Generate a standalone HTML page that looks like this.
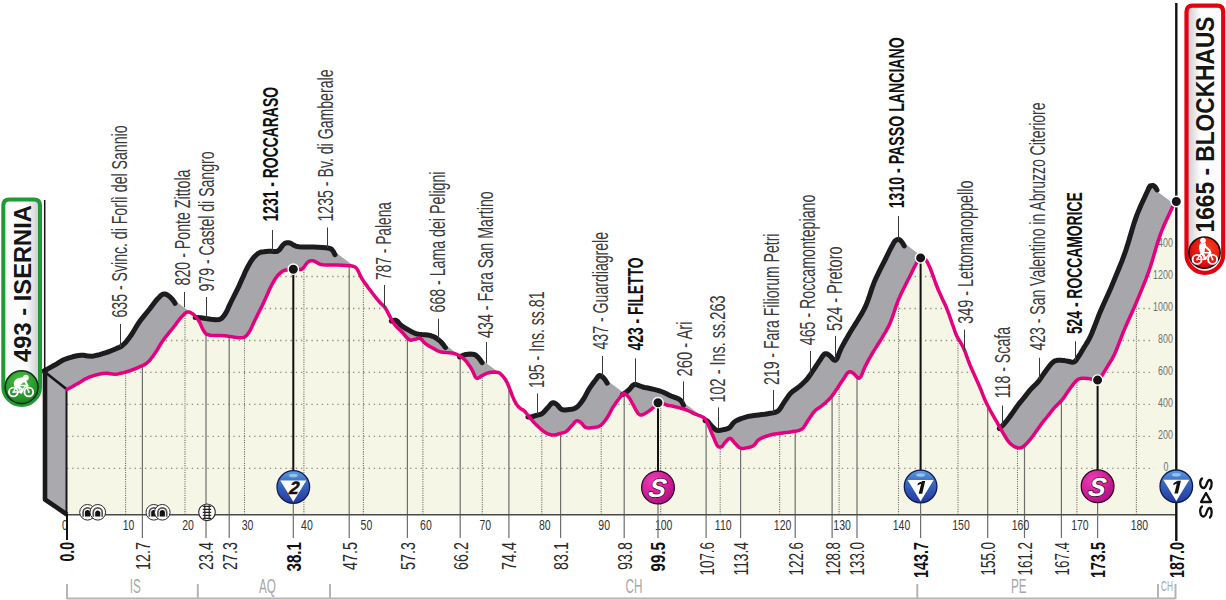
<!DOCTYPE html>
<html><head><meta charset="utf-8"><style>
html,body{margin:0;padding:0;background:#fff;}
svg{display:block;font-family:"Liberation Sans", sans-serif;}
</style></head><body>
<svg width="1226" height="600" viewBox="0 0 1226 600">
<rect width="1226" height="600" fill="#fff"/>
<defs>
<clipPath id="fc"><path d="M67,389.5 68.3,388.8 71.3,387.2 75,385.1 78.3,383.3 80.8,381.8 83.1,380.3 85.6,378.8 88.3,377.5 92.2,376.1 96.6,374.8 101,373.8 105,373.3 107.7,373.3 110.1,373.7 112.5,374.1 115,374.2 117.9,373.9 120.8,373.3 123.7,372.6 126.7,371.7 130.1,370.6 133.6,369.3 137,368 140,366.7 141.9,365.9 143.5,365.2 145.1,364.4 146.7,363.3 148.8,361.3 150.9,358.8 153,356.1 155,353.3 157.1,350.1 159.1,346.7 161.1,343.3 163.3,340 165.7,336.8 168.3,333.6 170.8,330.5 173.3,327.5 175.5,324.6 177.6,321.7 179.7,319 181.7,316.7 183.2,315.2 184.6,313.7 186,312.6 187.5,312 188.8,312 190,312.3 191.3,313 192.5,313.7 194,314.9 195.5,316.4 197,318.2 198.3,320 199.7,322.4 200.9,325.1 202.1,327.8 203.3,330 204,331.3 204.7,332.4 205.5,333.4 206.7,334.2 210.2,335.2 214.9,335.5 220.1,335.6 225,335.8 229.9,336.5 234.9,337.3 239.6,337.8 243.3,337.5 244.9,336.8 246.1,335.9 247.2,334.7 248.3,333.3 250,330.6 251.7,327.3 253.3,323.6 255,320 257,316 259.1,311.8 261.2,307.6 263.3,303.3 265.4,298.6 267.6,293.8 269.6,289.1 271.7,285 273.1,282.4 274.5,280 276,277.8 277.5,275.8 278.9,274.3 280.3,272.9 281.8,271.7 283.3,270.8 284.5,270.3 285.8,270 287,269.9 288.3,269.7 289.6,269.5 291,269.4 292.3,269.3 293.8,269.2 295.7,269.3 297.8,269.6 299.8,269.6 301.7,269.2 303.5,267.7 305.1,265.5 306.7,263.2 308.3,261.7 309.5,261.1 310.8,260.8 312,260.7 313.3,260.8 314.9,261.4 316.4,262.3 318.1,263.4 320,264.2 322.9,264.7 326.2,264.9 329.8,264.9 333.3,265 337.5,265.1 342.1,265.2 346.4,265.4 350,265.8 351.7,266 353.2,266.3 354.5,266.7 355.8,267.5 357.4,269.5 358.8,272.3 360.2,275.4 361.7,278.3 363.6,281.2 365.7,284.1 367.8,287.1 370,290 372.5,293.3 375.1,296.6 377.7,299.8 380,302.5 381.4,303.9 382.6,305 383.8,306.1 385,307.5 386.3,309.6 387.6,311.9 388.8,314.4 390,316.7 391.2,318.8 392.4,321 393.6,323 395,325 396.5,326.8 398.2,328.4 399.9,330 401.7,331.7 403.7,334 405.8,336.5 408,338.7 410,340 411.3,340.2 412.5,339.9 413.8,339.5 415,339.2 416.3,338.9 417.5,338.5 418.8,338.2 420,338.3 421.3,339.1 422.5,340.5 423.7,342 425,343.3 426.6,344.4 428.2,345.5 429.9,346.5 431.7,347.5 433.7,348.6 435.7,349.8 437.8,350.9 440,351.7 442.8,352.2 445.9,352.5 449,352.7 451.7,353 453.5,353.4 455.2,353.8 456.7,354.3 458.3,355 460,356 461.7,357.2 463.4,358.5 465,360 466.8,362 468.5,364.4 470.2,366.8 471.7,369.2 473,371.8 474.2,374.6 475.3,377 476.7,378.3 477.9,378.2 479.2,377.5 480.5,376.6 481.7,375.8 482.6,375.4 483.3,375 484.1,374.6 485,374.2 486.1,373.7 487.3,373.2 488.6,372.8 490,372.5 492,372.2 494.3,372.1 496.5,372.2 498.3,372.5 499.3,372.9 500.1,373.5 500.9,374.2 501.7,375 503,376.4 504.3,378 505.5,379.8 506.7,381.7 507.8,384 508.8,386.5 509.8,389.1 510.8,391.7 511.8,394.3 512.8,396.9 513.9,399.4 515,401.7 516,403.4 517,404.9 518,406.3 519.2,407.5 520.4,408.4 521.7,409.2 523,409.9 524.2,410.8 525.3,411.9 526.3,413.2 527.3,414.5 528.3,415.8 529.5,417.2 530.7,418.7 532,420.2 533.3,421.7 534.9,423.4 536.5,425.1 538.3,426.7 540,428.3 541.6,429.7 543.3,431.1 545,432.3 546.7,433.3 548.3,434 550,434.5 551.6,434.9 553.3,435 555,434.9 556.7,434.5 558.4,434 560,433.5 561.5,433.1 563,432.8 564.4,432.4 565.8,431.7 567.4,430.5 568.8,429 570.3,427.3 571.7,425.8 573,424.3 574.2,422.8 575.4,421.5 576.7,420.8 577.7,420.8 578.8,421.2 579.8,421.8 580.8,422.5 582,423.6 583.2,425.1 584.4,426.5 585.8,427.5 587.5,427.9 589.4,427.9 591.4,427.7 593.3,427.5 595,427.3 596.7,427 598.4,426.6 600,425.8 601.8,424.4 603.5,422.6 605.1,420.5 606.7,418.3 608.4,415.6 610,412.6 611.6,409.6 613.3,406.7 615,404.2 616.7,401.8 618.4,399.5 620,397.5 620.9,396.2 621.7,395 622.6,394 623.5,393.5 624.6,393.7 625.9,394.5 627.1,395.5 628.3,396.7 629.6,398.4 630.8,400.5 632,402.8 633.3,405 634.8,407.8 636.4,410.9 638.1,413.5 640,415 641.6,415 643.3,414.4 645,413.5 646.7,412.5 648.4,411.4 650.1,410.2 651.8,408.8 653.3,407.5 654.6,406.1 655.7,404.6 656.9,403.3 658.3,402.5 660.2,402.5 662.3,403.3 664.5,404.2 666.7,405 668.7,405.5 670.8,405.8 672.8,406.2 675,406.7 677.8,407.4 680.9,408.2 683.9,409 686.7,410 688.9,411 691,412 693,413.1 695,414 696.8,414.7 698.6,415.3 700.2,415.9 701.7,416.5 702.6,417 703.5,417.5 704.3,418.1 705,418.8 705.9,420 706.7,421.5 707.5,423.2 708.3,425 709.5,427.7 710.7,430.7 712,433.8 713.3,436.7 714.5,439.6 715.7,442.6 716.9,445.1 718.3,446.7 719.1,447 720,447.1 720.9,447 721.7,446.7 722.6,446 723.3,444.9 724.1,443.6 725,442.5 726.2,441.2 727.4,439.8 728.7,438.7 730,438.3 731.3,438.9 732.5,440.2 733.7,441.8 735,443.3 736.4,444.7 737.8,446.2 739.2,447.5 740.8,448.3 742.6,448.5 744.5,448.3 746.5,447.9 748.3,447.5 749.6,447.2 750.9,446.9 752.1,446.4 753.3,445.8 754.6,444.6 755.8,443 756.9,441.4 758.3,440 759.8,439 761.5,438.1 763.2,437.4 765,436.7 767,436 769.1,435.3 771.3,434.7 773.3,434.2 775,433.9 776.6,433.7 778.2,433.5 780,433.3 782.7,433 785.7,432.6 788.8,432.2 791.7,431.7 794.3,431.3 797,430.9 799.5,430.3 801.7,429.2 803.6,427.4 805.2,425 806.7,422.5 808.3,420 809.9,417.6 811.6,415.2 813.2,412.8 815,410.8 816.6,409.4 818.3,408.2 820,407.1 821.7,405.8 823.8,404.1 825.9,402.3 828,400.3 830,398.3 831.8,396.1 833.5,393.9 835.1,391.6 836.7,389.2 838.4,386.7 840,384.1 841.7,381.6 843.3,379.2 844.8,377 846.2,374.6 847.7,372.7 849.2,371.7 850.2,371.7 851.2,372 852.3,372.6 853.3,373.3 854.8,374.6 856.3,376.4 857.8,377.8 859.2,378.3 860.8,376.9 862.1,373.9 863.5,370.2 865,366.7 866.9,363.1 869,359.2 871.2,355.4 873.3,351.7 875.4,348.3 877.5,345 879.6,341.7 881.7,338.3 883.8,334.7 886,331.1 888,327.4 890,323.3 892.1,317.9 894.1,312 896.1,305.9 898.3,300 901.1,293.8 904.2,287.4 907.3,281.3 910,276 911.5,272.9 912.9,270 914.2,267.4 915.5,265 916.5,263.1 917.4,261.3 918.4,259.7 919.5,258.5 920.3,258 921.2,257.6 922.1,257.4 923,257.5 924.1,258.1 925.2,259.2 926.4,260.7 927.5,262.5 930.1,267.9 932.8,275.2 935.6,283 938.3,290 940.5,294.8 942.6,299.4 944.7,303.8 946.7,308.3 948.5,313 950.2,317.9 951.8,322.5 953.3,326.7 954.2,329.2 954.9,331.4 955.7,333.5 956.7,335.8 958.2,338.6 959.9,341.4 961.6,344.3 963.3,347.5 965,351.5 966.6,355.9 968.2,360.4 970,365 972.4,370.6 975.1,376.5 977.7,382.3 980,387.5 981.4,390.9 982.6,394.1 983.8,397.1 985,400 986.2,402.6 987.4,405 988.7,407.5 990,410 991.6,412.9 993.3,415.8 995,418.8 996.7,421.7 998.3,424.6 1000,427.6 1001.6,430.5 1003.3,433.3 1004.9,436 1006.5,438.7 1008.2,441.2 1010,443.3 1011.6,444.7 1013.3,445.9 1015,446.9 1016.7,447.5 1018,447.8 1019.2,447.9 1020.5,447.8 1021.7,447.5 1023.4,446.6 1025,445.1 1026.7,443.4 1028.3,441.7 1030,439.7 1031.7,437.5 1033.4,435.3 1035,433 1036.7,430.6 1038.4,428.2 1040.1,425.7 1041.7,423.5 1043,421.8 1044.3,420.2 1045.6,418.7 1047,417 1048.9,414.6 1050.9,412 1053,409.4 1055,407 1056.8,405.2 1058.5,403.5 1060.3,401.8 1062,400 1063.8,397.7 1065.5,395.1 1067.2,392.6 1069,390 1071.2,387 1073.5,383.9 1075.9,381.1 1078.3,379.2 1080,378.6 1081.6,378.3 1083.3,378.3 1085,378.3 1086.7,378.4 1088.4,378.6 1090,378.9 1091.7,379.2 1093.3,379.5 1095,380 1096.5,380.2 1098,380 1099.5,378.9 1100.8,377.2 1102.1,375.2 1103.3,373.3 1104.6,371.3 1105.8,369.2 1107.1,367.1 1108.3,365 1109.6,363 1110.8,361 1112.1,358.9 1113.3,356.7 1114.6,354 1115.9,351 1117.1,348 1118.3,345 1119.5,341.9 1120.7,338.8 1121.9,335.6 1123.3,332 1125.9,326 1128.9,319.3 1132.1,312.2 1135.3,304.9 1138.8,296.5 1142.4,287.8 1146,278.9 1149.3,269.9 1152.3,260.6 1155.1,251 1157.9,241.6 1161,232.6 1164.7,223.8 1169,214.5 1172.5,207 1174,204 L1174,514.5 L67,514.5 Z"/></clipPath>
<linearGradient id="boxg" x1="0" x2="1" y1="0" y2="0"><stop offset="0" stop-color="#fafafa"/><stop offset="0.6" stop-color="#ffffff"/><stop offset="1" stop-color="#c8c8cc"/></linearGradient>
<linearGradient id="boxr" x1="0" x2="1" y1="0" y2="0"><stop offset="0" stop-color="#c8c8cc"/><stop offset="0.4" stop-color="#ffffff"/><stop offset="1" stop-color="#fafafa"/></linearGradient>
<radialGradient id="gg" cx="0.45" cy="0.3" r="0.75"><stop offset="0" stop-color="#4cc142"/><stop offset="1" stop-color="#17801f"/></radialGradient>
<radialGradient id="rg" cx="0.62" cy="0.35" r="0.7"><stop offset="0" stop-color="#f5401e"/><stop offset="0.7" stop-color="#e01410"/><stop offset="1" stop-color="#c80a0a"/></radialGradient>
<linearGradient id="blg" x1="0" x2="0" y1="0" y2="1"><stop offset="0" stop-color="#5a9de0"/><stop offset="0.35" stop-color="#3a6cc8"/><stop offset="1" stop-color="#24399a"/></linearGradient>
<radialGradient id="mg" cx="0.35" cy="0.3" r="0.8"><stop offset="0" stop-color="#ea3cb4"/><stop offset="0.6" stop-color="#d01c98"/><stop offset="1" stop-color="#a40f78"/></radialGradient>
</defs>
<path d="M67,389.5 68.3,388.8 71.3,387.2 75,385.1 78.3,383.3 80.8,381.8 83.1,380.3 85.6,378.8 88.3,377.5 92.2,376.1 96.6,374.8 101,373.8 105,373.3 107.7,373.3 110.1,373.7 112.5,374.1 115,374.2 117.9,373.9 120.8,373.3 123.7,372.6 126.7,371.7 130.1,370.6 133.6,369.3 137,368 140,366.7 141.9,365.9 143.5,365.2 145.1,364.4 146.7,363.3 148.8,361.3 150.9,358.8 153,356.1 155,353.3 157.1,350.1 159.1,346.7 161.1,343.3 163.3,340 165.7,336.8 168.3,333.6 170.8,330.5 173.3,327.5 175.5,324.6 177.6,321.7 179.7,319 181.7,316.7 183.2,315.2 184.6,313.7 186,312.6 187.5,312 188.8,312 190,312.3 191.3,313 192.5,313.7 194,314.9 195.5,316.4 197,318.2 198.3,320 199.7,322.4 200.9,325.1 202.1,327.8 203.3,330 204,331.3 204.7,332.4 205.5,333.4 206.7,334.2 210.2,335.2 214.9,335.5 220.1,335.6 225,335.8 229.9,336.5 234.9,337.3 239.6,337.8 243.3,337.5 244.9,336.8 246.1,335.9 247.2,334.7 248.3,333.3 250,330.6 251.7,327.3 253.3,323.6 255,320 257,316 259.1,311.8 261.2,307.6 263.3,303.3 265.4,298.6 267.6,293.8 269.6,289.1 271.7,285 273.1,282.4 274.5,280 276,277.8 277.5,275.8 278.9,274.3 280.3,272.9 281.8,271.7 283.3,270.8 284.5,270.3 285.8,270 287,269.9 288.3,269.7 289.6,269.5 291,269.4 292.3,269.3 293.8,269.2 295.7,269.3 297.8,269.6 299.8,269.6 301.7,269.2 303.5,267.7 305.1,265.5 306.7,263.2 308.3,261.7 309.5,261.1 310.8,260.8 312,260.7 313.3,260.8 314.9,261.4 316.4,262.3 318.1,263.4 320,264.2 322.9,264.7 326.2,264.9 329.8,264.9 333.3,265 337.5,265.1 342.1,265.2 346.4,265.4 350,265.8 351.7,266 353.2,266.3 354.5,266.7 355.8,267.5 357.4,269.5 358.8,272.3 360.2,275.4 361.7,278.3 363.6,281.2 365.7,284.1 367.8,287.1 370,290 372.5,293.3 375.1,296.6 377.7,299.8 380,302.5 381.4,303.9 382.6,305 383.8,306.1 385,307.5 386.3,309.6 387.6,311.9 388.8,314.4 390,316.7 391.2,318.8 392.4,321 393.6,323 395,325 396.5,326.8 398.2,328.4 399.9,330 401.7,331.7 403.7,334 405.8,336.5 408,338.7 410,340 411.3,340.2 412.5,339.9 413.8,339.5 415,339.2 416.3,338.9 417.5,338.5 418.8,338.2 420,338.3 421.3,339.1 422.5,340.5 423.7,342 425,343.3 426.6,344.4 428.2,345.5 429.9,346.5 431.7,347.5 433.7,348.6 435.7,349.8 437.8,350.9 440,351.7 442.8,352.2 445.9,352.5 449,352.7 451.7,353 453.5,353.4 455.2,353.8 456.7,354.3 458.3,355 460,356 461.7,357.2 463.4,358.5 465,360 466.8,362 468.5,364.4 470.2,366.8 471.7,369.2 473,371.8 474.2,374.6 475.3,377 476.7,378.3 477.9,378.2 479.2,377.5 480.5,376.6 481.7,375.8 482.6,375.4 483.3,375 484.1,374.6 485,374.2 486.1,373.7 487.3,373.2 488.6,372.8 490,372.5 492,372.2 494.3,372.1 496.5,372.2 498.3,372.5 499.3,372.9 500.1,373.5 500.9,374.2 501.7,375 503,376.4 504.3,378 505.5,379.8 506.7,381.7 507.8,384 508.8,386.5 509.8,389.1 510.8,391.7 511.8,394.3 512.8,396.9 513.9,399.4 515,401.7 516,403.4 517,404.9 518,406.3 519.2,407.5 520.4,408.4 521.7,409.2 523,409.9 524.2,410.8 525.3,411.9 526.3,413.2 527.3,414.5 528.3,415.8 529.5,417.2 530.7,418.7 532,420.2 533.3,421.7 534.9,423.4 536.5,425.1 538.3,426.7 540,428.3 541.6,429.7 543.3,431.1 545,432.3 546.7,433.3 548.3,434 550,434.5 551.6,434.9 553.3,435 555,434.9 556.7,434.5 558.4,434 560,433.5 561.5,433.1 563,432.8 564.4,432.4 565.8,431.7 567.4,430.5 568.8,429 570.3,427.3 571.7,425.8 573,424.3 574.2,422.8 575.4,421.5 576.7,420.8 577.7,420.8 578.8,421.2 579.8,421.8 580.8,422.5 582,423.6 583.2,425.1 584.4,426.5 585.8,427.5 587.5,427.9 589.4,427.9 591.4,427.7 593.3,427.5 595,427.3 596.7,427 598.4,426.6 600,425.8 601.8,424.4 603.5,422.6 605.1,420.5 606.7,418.3 608.4,415.6 610,412.6 611.6,409.6 613.3,406.7 615,404.2 616.7,401.8 618.4,399.5 620,397.5 620.9,396.2 621.7,395 622.6,394 623.5,393.5 624.6,393.7 625.9,394.5 627.1,395.5 628.3,396.7 629.6,398.4 630.8,400.5 632,402.8 633.3,405 634.8,407.8 636.4,410.9 638.1,413.5 640,415 641.6,415 643.3,414.4 645,413.5 646.7,412.5 648.4,411.4 650.1,410.2 651.8,408.8 653.3,407.5 654.6,406.1 655.7,404.6 656.9,403.3 658.3,402.5 660.2,402.5 662.3,403.3 664.5,404.2 666.7,405 668.7,405.5 670.8,405.8 672.8,406.2 675,406.7 677.8,407.4 680.9,408.2 683.9,409 686.7,410 688.9,411 691,412 693,413.1 695,414 696.8,414.7 698.6,415.3 700.2,415.9 701.7,416.5 702.6,417 703.5,417.5 704.3,418.1 705,418.8 705.9,420 706.7,421.5 707.5,423.2 708.3,425 709.5,427.7 710.7,430.7 712,433.8 713.3,436.7 714.5,439.6 715.7,442.6 716.9,445.1 718.3,446.7 719.1,447 720,447.1 720.9,447 721.7,446.7 722.6,446 723.3,444.9 724.1,443.6 725,442.5 726.2,441.2 727.4,439.8 728.7,438.7 730,438.3 731.3,438.9 732.5,440.2 733.7,441.8 735,443.3 736.4,444.7 737.8,446.2 739.2,447.5 740.8,448.3 742.6,448.5 744.5,448.3 746.5,447.9 748.3,447.5 749.6,447.2 750.9,446.9 752.1,446.4 753.3,445.8 754.6,444.6 755.8,443 756.9,441.4 758.3,440 759.8,439 761.5,438.1 763.2,437.4 765,436.7 767,436 769.1,435.3 771.3,434.7 773.3,434.2 775,433.9 776.6,433.7 778.2,433.5 780,433.3 782.7,433 785.7,432.6 788.8,432.2 791.7,431.7 794.3,431.3 797,430.9 799.5,430.3 801.7,429.2 803.6,427.4 805.2,425 806.7,422.5 808.3,420 809.9,417.6 811.6,415.2 813.2,412.8 815,410.8 816.6,409.4 818.3,408.2 820,407.1 821.7,405.8 823.8,404.1 825.9,402.3 828,400.3 830,398.3 831.8,396.1 833.5,393.9 835.1,391.6 836.7,389.2 838.4,386.7 840,384.1 841.7,381.6 843.3,379.2 844.8,377 846.2,374.6 847.7,372.7 849.2,371.7 850.2,371.7 851.2,372 852.3,372.6 853.3,373.3 854.8,374.6 856.3,376.4 857.8,377.8 859.2,378.3 860.8,376.9 862.1,373.9 863.5,370.2 865,366.7 866.9,363.1 869,359.2 871.2,355.4 873.3,351.7 875.4,348.3 877.5,345 879.6,341.7 881.7,338.3 883.8,334.7 886,331.1 888,327.4 890,323.3 892.1,317.9 894.1,312 896.1,305.9 898.3,300 901.1,293.8 904.2,287.4 907.3,281.3 910,276 911.5,272.9 912.9,270 914.2,267.4 915.5,265 916.5,263.1 917.4,261.3 918.4,259.7 919.5,258.5 920.3,258 921.2,257.6 922.1,257.4 923,257.5 924.1,258.1 925.2,259.2 926.4,260.7 927.5,262.5 930.1,267.9 932.8,275.2 935.6,283 938.3,290 940.5,294.8 942.6,299.4 944.7,303.8 946.7,308.3 948.5,313 950.2,317.9 951.8,322.5 953.3,326.7 954.2,329.2 954.9,331.4 955.7,333.5 956.7,335.8 958.2,338.6 959.9,341.4 961.6,344.3 963.3,347.5 965,351.5 966.6,355.9 968.2,360.4 970,365 972.4,370.6 975.1,376.5 977.7,382.3 980,387.5 981.4,390.9 982.6,394.1 983.8,397.1 985,400 986.2,402.6 987.4,405 988.7,407.5 990,410 991.6,412.9 993.3,415.8 995,418.8 996.7,421.7 998.3,424.6 1000,427.6 1001.6,430.5 1003.3,433.3 1004.9,436 1006.5,438.7 1008.2,441.2 1010,443.3 1011.6,444.7 1013.3,445.9 1015,446.9 1016.7,447.5 1018,447.8 1019.2,447.9 1020.5,447.8 1021.7,447.5 1023.4,446.6 1025,445.1 1026.7,443.4 1028.3,441.7 1030,439.7 1031.7,437.5 1033.4,435.3 1035,433 1036.7,430.6 1038.4,428.2 1040.1,425.7 1041.7,423.5 1043,421.8 1044.3,420.2 1045.6,418.7 1047,417 1048.9,414.6 1050.9,412 1053,409.4 1055,407 1056.8,405.2 1058.5,403.5 1060.3,401.8 1062,400 1063.8,397.7 1065.5,395.1 1067.2,392.6 1069,390 1071.2,387 1073.5,383.9 1075.9,381.1 1078.3,379.2 1080,378.6 1081.6,378.3 1083.3,378.3 1085,378.3 1086.7,378.4 1088.4,378.6 1090,378.9 1091.7,379.2 1093.3,379.5 1095,380 1096.5,380.2 1098,380 1099.5,378.9 1100.8,377.2 1102.1,375.2 1103.3,373.3 1104.6,371.3 1105.8,369.2 1107.1,367.1 1108.3,365 1109.6,363 1110.8,361 1112.1,358.9 1113.3,356.7 1114.6,354 1115.9,351 1117.1,348 1118.3,345 1119.5,341.9 1120.7,338.8 1121.9,335.6 1123.3,332 1125.9,326 1128.9,319.3 1132.1,312.2 1135.3,304.9 1138.8,296.5 1142.4,287.8 1146,278.9 1149.3,269.9 1152.3,260.6 1155.1,251 1157.9,241.6 1161,232.6 1164.7,223.8 1169,214.5 1172.5,207 1174,204 L1174,514.5 L67,514.5 Z" fill="#f6f6e6"/>
<g clip-path="url(#fc)">
<path d="M67,468.3 H1154M67,436.3 H1154M67,404.4 H1154M67,372.4 H1154M67,340.5 H1154M67,308.5 H1154M67,276.5 H1154M67,244.6 H1154" stroke="#8a8a80" stroke-width="1.3" stroke-dasharray="1.3 3.9" fill="none"/>
<path d="M125.6,514.5 V200M185,514.5 V200M244.5,514.5 V200M303.9,514.5 V200M363.4,514.5 V200M422.9,514.5 V200M482.3,514.5 V200M541.8,514.5 V200M601.2,514.5 V200M660.7,514.5 V200M720.2,514.5 V200M779.6,514.5 V200M839.1,514.5 V200M898.5,514.5 V200M958,514.5 V200M1017.5,514.5 V200M1076.9,514.5 V200M1136.4,514.5 V200" stroke="#707068" stroke-width="1.1" stroke-dasharray="1.1 1.2" fill="none"/>
</g>
<text x="0" y="0" font-size="12.3" fill="#707070" text-anchor="end" transform="translate(1168.5 471.1) scale(0.72 1)">0</text>
<text x="0" y="0" font-size="12.3" fill="#707070" text-anchor="end" transform="translate(1172.8 439.1) scale(0.72 1)">200</text>
<text x="0" y="0" font-size="12.3" fill="#707070" text-anchor="end" transform="translate(1172.8 407.2) scale(0.72 1)">400</text>
<text x="0" y="0" font-size="12.3" fill="#707070" text-anchor="end" transform="translate(1172.8 375.2) scale(0.72 1)">600</text>
<text x="0" y="0" font-size="12.3" fill="#707070" text-anchor="end" transform="translate(1172.8 343.3) scale(0.72 1)">800</text>
<text x="0" y="0" font-size="12.3" fill="#707070" text-anchor="end" transform="translate(1172.8 311.3) scale(0.72 1)">1000</text>
<text x="0" y="0" font-size="12.3" fill="#707070" text-anchor="end" transform="translate(1172.8 279.3) scale(0.72 1)">1200</text>
<text x="0" y="0" font-size="12.3" fill="#707070" text-anchor="end" transform="translate(1172.8 247.4) scale(0.72 1)">1400</text>
<path d="M142.4,365.7 V538M206,333.7 V538M229.2,336.4 V538M349.2,265.7 V538M407.4,338.1 V538M460.2,356.1 V538M508.9,386.8 V538M560.6,433.4 V538M624.2,393.6 V538M706.1,420.5 V538M740.6,448.2 V538M795.2,431.2 V538M832.1,395.8 V538M857,377.1 V538M987.7,405.6 V538M1024.5,445.6 V538M1061.4,400.7 V538" stroke="#6e6e6e" stroke-width="1.2" fill="none"/>
<path d="M194,314.9 194,314.9 192.5,313.7 192.5,313.7 168.5,295.7 168.5,295.7 167.3,294.9 167.3,294.9 167.3,294.9 167.3,294.9 167.3,294.9 167.3,294.9 167.3,294.9 166,294.3 166,294.3 166,294.3 166,294.3 166,294.3 166,294.3 166,294.3 166,294.3 166,294.3 164.8,294 164.8,294 164.8,294 164.8,294 164.8,294 164.8,294 164.8,294 164.8,294 164.8,294 164.8,294 164.8,294 164.8,294 164.8,294 164.8,294 164.8,294 164.8,294 163.5,294 163.5,294 163.5,294 163.5,294 163.5,294 163.5,294 163.5,294 163.5,294 163.5,294 163.5,294 163.5,294 163.5,294 163.5,294 163.5,294 163.5,294 163.5,294 163.5,294 163.5,294 163.5,294 163.5,294 163.5,294 163.5,294 163.5,294 163.5,294 162,294.6 162,294.6 162,294.6 162,294.6 162,294.6 162,294.6 162,294.6 162,294.6 162,294.6 162,294.6 162,294.6 162,294.6 162,294.6 162,294.6 162,294.6 162,294.6 160.6,295.7 160.6,295.7 160.6,295.7 160.6,295.7 160.6,295.7 160.6,295.7 160.6,295.7 159.2,297.2 159.2,297.2 157.7,298.7 157.7,298.7 155.7,301 155.7,301 153.6,303.7 153.6,303.7 151.5,306.6 149.3,309.5 146.8,312.5 144.3,315.6 144.3,315.6 141.7,318.8 141.7,318.8 139.3,322 139.3,322 137.1,325.3 137.1,325.3 135.1,328.7 133.1,332.1 131,335.3 129,338.1 126.9,340.8 124.8,343.3 122.7,345.3 121.1,346.4 119.5,347.2 117.9,347.9 116,348.7 116,348.7 113,350 109.6,351.3 106.1,352.6 102.7,353.7 99.7,354.5 96.8,355.3 93.9,355.9 91,356.2 88.5,356.1 86.1,355.7 86.1,355.7 83.7,355.3 83.7,355.3 83.7,355.3 83.7,355.3 83.7,355.3 83.7,355.3 83.7,355.3 81,355.3 81,355.3 81,355.3 81,355.3 81,355.3 81,355.3 81,355.3 81,355.3 81,355.3 77,355.8 77,355.8 72.6,356.8 72.6,356.8 68.2,358.1 68.2,358.1 64.3,359.5 64.3,359.5 64.3,359.5 64.3,359.5 64.3,359.5 64.3,359.5 64.3,359.5 61.6,360.8 61.6,360.8 59.1,362.3 59.1,362.3 56.8,363.8 54.3,365.3 51,367.1 47.3,369.2 44.3,370.8 44.3,370.8 44.3,370.8 44.3,370.8 44.3,370.8 44.3,370.8 44.3,370.8 44.3,370.8 44.3,370.8 44.3,370.8 44.3,370.8 44.3,370.8 44.3,370.8 44.3,370.8 44.3,370.8 44.3,370.8 44.3,370.8 44.3,370.8 44.3,370.8 44.3,370.8 44.3,370.8 44.3,370.8 44.3,370.8 44.3,370.8 44.3,370.8 44.3,370.8 44.3,370.8 44.3,370.8 44.3,370.8 44.3,370.8 44.3,370.8 44.3,370.8 44.3,370.8 44.3,370.8 44.3,370.8 44.3,370.8 44.3,370.8 44.3,370.8 44.3,370.8 44.3,370.8 44.3,370.8 44.3,370.8 44.3,370.8 44.3,370.8 44.3,370.8 44.3,370.8 44.3,370.8 44.3,370.8 44.3,370.8 44.3,370.8 44.3,370.8 44.3,370.8 44.3,370.8 44.3,370.8 44.3,370.8 44.3,370.8 44.3,370.8 44.3,370.8 44.3,370.8 44.3,370.8 44.3,370.8 44.3,370.8 44.3,370.8 44.3,370.8 44.3,370.8 44.3,370.8 44.3,370.8 44.3,370.8 44.3,370.8 44.3,370.8 44.3,370.8 44.3,370.8 44.3,370.8 44.3,370.8 44.3,370.8 44.3,370.8 44.3,370.8 44.3,370.8 44.3,370.8 44.3,370.8 44.3,370.8 44.3,370.8 44.3,370.8 44.3,370.8 44.3,370.8 44.3,370.8 44.3,370.8 44.3,370.8 44.3,370.8 44.3,370.8 44.3,370.8 44.3,370.8 44.3,370.8 44.3,370.8 45,372.5 45,499.5 45,499.5 45,499.5 45,499.5 45,499.5 45,499.5 45,499.5 45,499.5 45,499.5 45,499.5 45,499.5 45,499.5 45,499.5 45,499.5 45,499.5 45,499.5 45,499.5 67,499.5 67,514.5 67,514.5 67,514.5 67,514.5 67,514.5 67,514.5 67,514.5 67,514.5 67,514.5 67,514.5 67,514.5 67,514.5 67,514.5 67,514.5 67,514.5 67,514.5 67,514.5 1174,514.5 1174,514.5 1174,514.5 1174,514.5 1174,514.5 1174,514.5 1174,514.5 1174,514.5 1174,514.5 1174,514.5 1174,514.5 1174,514.5 1174,514.5 1174,514.5 1174,514.5 1174,514.5 1174,514.5 1174,204 1174,204 1174,204 1174,204 1174,204 1174,204 1174,204 1174,204 1174,204 1174,204 1174,204 1174,204 1174,204 1174,204 1174,204 1174,204 1174,204 1174,204 1174,204 1174,204 1174,204 1174,204 1174,204 1174,204 1174,204 1174,204 1174,204 1174,204 1174,204 1174,204 1174,204 1174,204 1174,204 1174,204 1174,204 1174,204 1174,204 1174,204 1174,204 1150,186 1150,186 1150,186 1150,186 1150,186 1150,186 1150,186 1150,186 1150,186 1150,186 1150,186 1150,186 1150,186 1150,186 1150,186 1150,186 1150,186 1150,186 1150,186 1150,186 1150,186 1150,186 1150,186 1150,186 1150,186 1150,186 1150,186 1150,186 1150,186 1150,186 1150,186 1150,186 1150,186 1150,186 1150,186 1150,186 1150,186 1150,186 1150,186 1150,186 1150,186 1150,186 1150,186 1150,186 1150,186 1150,186 1150,186 1150,186 1150,186 1150,186 1150,186 1150,186 1150,186 1150,186 1150,186 1150,186 1150,186 1150,186 1150,186 1150,186 1150,186 1150,186 1150,186 1150,186 1150,186 1150,186 1150,186 1150,186 1150,186 1150,186 1148.5,189 1148.5,189 1145,196.5 1145,196.5 1140.7,205.8 1140.7,205.8 1137,214.6 1137,214.6 1133.9,223.6 1133.9,223.6 1131.1,233 1131.1,233 1128.3,242.6 1125.3,251.9 1122,260.9 1118.4,269.8 1114.8,278.5 1111.3,286.9 1108.1,294.2 1104.9,301.3 1101.9,308 1101.9,308 1099.3,314 1099.3,314 1097.9,317.6 1097.9,317.6 1096.6,320.8 1096.6,320.8 1095.5,323.9 1094.3,327 1093.1,330 1091.9,333 1090.6,336 1089.3,338.7 1088.1,340.9 1086.8,343 1085.6,345 1085.6,345 1084.3,347 1084.3,347 1083.1,349.1 1083.1,349.1 1081.8,351.2 1080.6,353.3 1079.3,355.3 1079.3,355.3 1078.1,357.2 1078.1,357.2 1076.8,359.2 1075.5,360.9 1074,362 1072.5,362.2 1071,362 1069.3,361.5 1069.3,361.5 1067.7,361.2 1067.7,361.2 1066,360.9 1064.4,360.6 1064.4,360.6 1062.7,360.4 1062.7,360.4 1061,360.3 1061,360.3 1059.3,360.3 1059.3,360.3 1057.6,360.3 1057.6,360.3 1057.6,360.3 1057.6,360.3 1057.6,360.3 1057.6,360.3 1057.6,360.3 1056,360.5 1056,360.5 1056,360.5 1056,360.5 1056,360.5 1056,360.5 1056,360.5 1056,360.5 1056,360.5 1056,360.5 1056,360.5 1056,360.5 1056,360.5 1054.3,361.2 1054.3,361.2 1054.3,361.2 1054.3,361.2 1054.3,361.2 1054.3,361.2 1054.3,361.2 1054.3,361.2 1054.3,361.2 1054.3,361.2 1054.3,361.2 1054.3,361.2 1054.3,361.2 1054.3,361.2 1054.3,361.2 1054.3,361.2 1051.9,363.1 1051.9,363.1 1051.9,363.1 1051.9,363.1 1051.9,363.1 1051.9,363.1 1051.9,363.1 1051.9,363.1 1051.9,363.1 1049.5,365.9 1049.5,365.9 1047.2,369 1047.2,369 1047.2,369 1045,372 1045,372 1043.2,374.5 1043.2,374.5 1041.4,377.1 1039.8,379.7 1038,382 1036.3,383.8 1034.5,385.5 1032.8,387.2 1032.8,387.2 1031,389 1031,389 1029,391.4 1029,391.4 1026.9,394 1026.9,394 1024.9,396.6 1023,399 1021.6,400.7 1020.3,402.2 1020.3,402.2 1019,403.8 1019,403.8 1017.7,405.5 1017.7,405.5 1016.1,407.7 1016.1,407.7 1014.4,410.2 1014.4,410.2 1012.7,412.6 1011,415 1009.3,417.3 1007.7,419.5 1006,421.7 1004.3,423.7 1002.7,425.4 1001,427.1 1000.2,427.9 1000,427.6 998.4,424.6 998.4,424.6 996.7,421.7 996.7,421.7 995,418.8 995,418.8 993.3,415.8 991.6,412.9 990,410 988.7,407.5 987.4,405 986.2,402.6 985,400 983.8,397.1 982.6,394.1 981.4,390.9 981.4,390.9 980,387.5 980,387.5 977.7,382.3 977.7,382.3 975.1,376.5 972.4,370.6 970,365 968.2,360.4 966.6,355.9 966.6,355.9 965,351.5 965,351.5 963.3,347.5 963.3,347.5 961.7,344.3 961.7,344.3 959.9,341.4 959.9,341.4 958.2,338.6 956.7,335.8 955.7,333.5 954.9,331.4 954.2,329.2 954.2,329.2 953.3,326.7 951.8,322.5 950.2,317.9 950.2,317.9 948.5,313 948.5,313 946.7,308.3 946.7,308.3 944.7,303.8 944.7,303.8 942.6,299.4 942.6,299.4 940.5,294.8 938.3,290 935.6,283 932.8,275.2 932.8,275.2 930.1,267.9 930.1,267.9 927.5,262.5 927.5,262.5 927.5,262.5 927.5,262.5 927.5,262.5 927.5,262.5 927.5,262.5 926.4,260.7 926.4,260.7 925.3,259.2 925.3,259.2 925.2,259.2 925.2,259.2 925.2,259.2 925.2,259.2 925.2,259.2 925.2,259.2 925.2,259.2 924.1,258.1 924.1,258.1 924.1,258.1 924.1,258.1 924.1,258.1 924.1,258.1 924.1,258.1 900.1,240.1 900.1,240.1 900.1,240.1 900.1,240.1 900.1,240.1 900.1,240.1 900.1,240.1 900.1,240.1 900.1,240.1 899,239.5 899,239.5 899,239.5 899,239.5 899,239.5 899,239.5 899,239.5 899,239.5 899,239.5 899,239.5 899,239.5 899,239.5 899,239.5 899,239.5 899,239.5 899,239.5 899,239.5 899,239.5 899,239.5 899,239.5 899,239.5 899,239.5 899,239.5 898.1,239.4 898.1,239.4 898.1,239.4 898.1,239.4 898.1,239.4 898.1,239.4 898.1,239.4 898.1,239.4 898.1,239.4 898.1,239.4 898.1,239.4 898.1,239.4 898.1,239.4 898.1,239.4 898.1,239.4 898.1,239.4 898.1,239.4 898.1,239.4 897.2,239.6 897.2,239.6 897.2,239.6 897.2,239.6 897.2,239.6 897.2,239.6 897.2,239.6 897.2,239.6 897.2,239.6 897.2,239.6 897.2,239.6 897.2,239.6 897.2,239.6 896.3,239.9 896.3,239.9 896.3,239.9 896.3,239.9 896.3,239.9 896.3,239.9 896.3,239.9 896.3,239.9 896.3,239.9 895.5,240.5 895.5,240.5 895.5,240.5 895.5,240.5 895.5,240.5 895.5,240.5 895.5,240.5 895.5,240.5 895.5,240.5 895.5,240.5 895.5,240.5 895.5,240.5 895.5,240.5 894.4,241.7 894.4,241.7 894.4,241.7 894.4,241.7 894.4,241.7 894.4,241.7 894.4,241.7 894.4,241.7 894.4,241.7 894.4,241.7 894.4,241.7 894.4,241.7 894.4,241.7 893.4,243.3 893.4,243.3 892.5,245.1 891.5,247 890.2,249.4 890.2,249.4 888.9,252 888.9,252 887.5,254.9 886,258 883.3,263.3 880.2,269.4 880.2,269.4 877.1,275.8 877.1,275.8 874.3,282 874.3,282 872.1,287.9 872.1,287.9 870.1,294 868.1,299.9 866,305.3 864,309.4 861.9,313.1 859.8,316.7 857.7,320.3 855.6,323.7 853.5,327 851.4,330.3 851.4,330.3 849.3,333.7 849.3,333.7 847.1,337.4 847.1,337.4 845,341.2 845,341.2 842.9,345 842.9,345 841,348.7 841,348.7 839.5,352.2 839.5,352.2 838.1,355.9 836.8,358.9 835.5,360 829.3,355.3 829.3,355.3 828.3,354.6 828.3,354.6 827.2,354 827.2,354 827.2,354 827.2,354 827.2,354 827.2,354 827.2,354 827.2,354 827.2,354 826.2,353.7 826.2,353.7 826.2,353.7 826.2,353.7 826.2,353.7 826.2,353.7 826.2,353.7 826.2,353.7 826.2,353.7 826.2,353.7 826.2,353.7 826.2,353.7 826.2,353.7 826.2,353.7 826.2,353.7 826.2,353.7 826.2,353.7 826.2,353.7 826.2,353.7 826.2,353.7 826.2,353.7 826.2,353.7 826.2,353.7 825.2,353.7 825.2,353.7 825.2,353.7 825.2,353.7 825.2,353.7 825.2,353.7 825.2,353.7 825.2,353.7 825.2,353.7 825.2,353.7 825.2,353.7 825.2,353.7 825.2,353.7 825.2,353.7 825.2,353.7 825.2,353.7 825.2,353.7 825.2,353.7 825.2,353.7 825.2,353.7 825.2,353.7 825.2,353.7 825.2,353.7 825.2,353.7 825.2,353.7 825.2,353.7 825.2,353.7 825.2,353.7 825.2,353.7 825.2,353.7 825.2,353.7 825.2,353.7 825.2,353.7 825.2,353.7 825.2,353.7 825.2,353.7 825.2,353.7 825.2,353.7 825.2,353.7 823.7,354.7 823.7,354.7 823.7,354.7 823.7,354.7 823.7,354.7 823.7,354.7 823.7,354.7 823.7,354.7 823.7,354.7 823.7,354.7 823.7,354.7 823.7,354.7 823.7,354.7 823.7,354.7 823.7,354.7 823.7,354.7 823.7,354.7 823.7,354.7 823.7,354.7 822.2,356.6 822.2,356.6 820.8,358.9 819.3,361.2 817.6,363.6 817.6,363.6 816,366.1 816,366.1 814.4,368.7 812.7,371.2 811.1,373.5 809.5,375.9 807.8,378.1 806,380.3 804,382.3 801.9,384.3 799.8,386.1 797.7,387.8 796,389.1 794.3,390.2 794.3,390.2 792.6,391.4 792.6,391.4 792.6,391.4 792.6,391.4 792.6,391.4 792.6,391.4 792.6,391.4 791,392.8 791,392.8 791,392.8 791,392.8 791,392.8 791,392.8 791,392.8 789.2,394.8 789.2,394.8 787.6,397.2 787.6,397.2 785.9,399.6 784.3,402 784.3,402 782.7,404.5 782.7,404.5 781.2,407 779.6,409.4 777.7,411.2 775.5,412.3 773,412.9 770.3,413.3 770.3,413.3 767.7,413.7 767.7,413.7 764.8,414.2 761.7,414.6 758.7,414.9 758.7,414.9 756,415.3 754.2,415.5 752.6,415.7 752.6,415.7 751,415.9 751,415.9 749.3,416.2 749.3,416.2 747.2,416.7 747.2,416.7 745.1,417.3 745.1,417.3 743,418 743,418 741,418.7 741,418.7 739.2,419.4 739.2,419.4 737.5,420.1 737.5,420.1 735.8,421 735.8,421 735.8,421 735.8,421 735.8,421 735.8,421 735.8,421 734.3,422 734.3,422 734.3,422 734.3,422 734.3,422 734.3,422 734.3,422 734.3,422 734.3,422 734.3,422 734.3,422 734.3,422 734.3,422 732.9,423.4 732.9,423.4 732.9,423.4 732.9,423.4 732.9,423.4 732.9,423.4 732.9,423.4 731.7,425 730.6,426.6 729.3,427.8 728.1,428.4 726.9,428.9 725.6,429.2 724.3,429.5 724.3,429.5 722.5,429.9 720.5,430.3 719.9,430.4 707.3,420.9 707.3,420.9 707.3,420.9 707.3,420.9 707.3,420.9 707.3,420.9 707.3,420.9 707.3,420.9 707.3,420.9 707.3,420.9 707.3,420.9 707.3,420.9 707.3,420.9 706.1,420.3 705.9,420 705.9,420 705.9,420 705.9,420 705.9,420 705.9,420 705.9,420 705,418.8 705,418.8 705,418.8 705,418.8 705,418.8 705,418.8 705,418.8 705,418.8 705,418.8 704.3,418.1 704.3,418.1 704.3,418.1 704.3,418.1 680.3,400.1 680.3,400.1 679.5,399.5 679.5,399.5 679.5,399.5 679.5,399.5 678.7,399 678.6,399 677.7,398.5 677.7,398.5 676.2,397.8 676.2,397.8 674.6,397.3 674.6,397.3 672.8,396.7 671,396 669,395.1 667,394 667,394 664.9,392.9 664.9,392.9 662.7,392 662.7,392 659.9,391 659.9,391 656.9,390.2 656.9,390.2 653.8,389.4 653.8,389.4 651,388.7 651,388.7 648.8,388.2 648.8,388.2 646.8,387.8 644.7,387.4 642.7,387 640.5,386.2 638.3,385.3 638.3,385.3 636.2,384.5 636.2,384.5 636.2,384.5 636.2,384.5 636.2,384.5 636.2,384.5 636.2,384.5 636.2,384.5 636.2,384.5 636.2,384.5 636.2,384.5 636.2,384.5 636.2,384.5 636.2,384.5 636.2,384.5 636.2,384.5 636.2,384.5 634.3,384.5 634.3,384.5 634.3,384.5 634.3,384.5 634.3,384.5 634.3,384.5 634.3,384.5 634.3,384.5 634.3,384.5 634.3,384.5 634.3,384.5 634.3,384.5 634.3,384.5 634.3,384.5 634.3,384.5 634.3,384.5 634.3,384.5 634.3,384.5 634.3,384.5 634.3,384.5 634.3,384.5 634.3,384.5 634.3,384.5 634.3,384.5 634.3,384.5 634.3,384.5 634.3,384.5 634.3,384.5 634.3,384.5 634.3,384.5 634.3,384.5 632.9,385.3 632.9,385.3 632.9,385.3 632.9,385.3 632.9,385.3 632.9,385.3 632.9,385.3 632.9,385.3 632.9,385.3 632.9,385.3 632.9,385.3 632.9,385.3 632.9,385.3 632.9,385.3 632.9,385.3 632.9,385.3 632.9,385.3 632.9,385.3 632.9,385.3 631.7,386.6 631.7,386.6 630.6,388.1 629.3,389.5 627.7,390.8 626.1,392.2 624.5,393.4 601.9,376.4 601.9,376.4 601.9,376.4 601.9,376.4 601.9,376.4 601.9,376.4 601.9,376.4 600.6,375.7 600.6,375.7 600.6,375.7 600.6,375.7 600.6,375.7 600.6,375.7 600.6,375.7 600.6,375.7 600.6,375.7 600.6,375.7 600.6,375.7 600.6,375.7 600.6,375.7 600.6,375.7 600.6,375.7 600.6,375.7 600.6,375.7 600.6,375.7 600.6,375.7 600.6,375.7 600.6,375.7 600.6,375.7 600.6,375.7 599.5,375.5 599.5,375.5 599.5,375.5 599.5,375.5 599.5,375.5 599.5,375.5 599.5,375.5 599.5,375.5 599.5,375.5 599.5,375.5 599.5,375.5 599.5,375.5 599.5,375.5 599.5,375.5 599.5,375.5 599.5,375.5 599.5,375.5 599.5,375.5 599.5,375.5 599.5,375.5 599.5,375.5 599.5,375.5 599.5,375.5 599.5,375.5 599.5,375.5 599.5,375.5 599.5,375.5 599.5,375.5 599.5,375.5 599.5,375.5 599.5,375.5 599.5,375.5 599.5,375.5 599.5,375.5 599.5,375.5 599.5,375.5 599.5,375.5 599.5,375.5 599.5,375.5 598.6,376 598.6,376 598.6,376 598.6,376 598.6,376 598.6,376 598.6,376 598.6,376 598.6,376 598.6,376 598.6,376 598.6,376 598.6,376 598.6,376 598.6,376 598.6,376 598.6,376 598.6,376 598.6,376 598.6,376 598.6,376 598.6,376 597.7,376.9 597.7,376.9 597.7,376.9 597.7,376.9 597.7,376.9 597.7,376.9 597.7,376.9 596.9,378.2 596,379.5 594.4,381.5 594.4,381.5 592.7,383.8 592.7,383.8 591,386.2 591,386.2 589.3,388.7 589.3,388.7 587.6,391.5 587.6,391.5 586,394.6 584.4,397.6 582.7,400.3 581.1,402.5 579.5,404.6 577.8,406.4 576,407.8 574.4,408.5 572.7,409 571,409.3 569.3,409.5 569.3,409.5 567.4,409.7 565.4,409.9 564,409.9 556.8,404.5 556.8,404.5 555.8,403.8 555.8,403.8 554.8,403.2 554.8,403.2 554.8,403.2 554.8,403.2 554.8,403.2 554.8,403.2 554.8,403.2 554.8,403.2 554.8,403.2 553.7,402.8 553.7,402.8 553.7,402.8 553.7,402.8 553.7,402.8 553.7,402.8 553.7,402.8 553.7,402.8 553.7,402.8 553.7,402.8 553.7,402.8 553.7,402.8 553.7,402.8 553.7,402.8 553.7,402.8 553.7,402.8 553.7,402.8 553.7,402.8 553.7,402.8 552.7,402.8 552.7,402.8 552.7,402.8 552.7,402.8 552.7,402.8 552.7,402.8 552.7,402.8 552.7,402.8 552.7,402.8 552.7,402.8 552.7,402.8 552.7,402.8 552.7,402.8 552.7,402.8 552.7,402.8 552.7,402.8 552.7,402.8 552.7,402.8 552.7,402.8 552.7,402.8 552.7,402.8 552.7,402.8 552.7,402.8 552.7,402.8 552.7,402.8 552.7,402.8 552.7,402.8 552.7,402.8 552.7,402.8 552.7,402.8 552.7,402.8 551.4,403.5 551.4,403.5 551.4,403.5 551.4,403.5 551.4,403.5 551.4,403.5 551.4,403.5 551.4,403.5 551.4,403.5 551.4,403.5 551.4,403.5 551.4,403.5 551.4,403.5 551.4,403.5 551.4,403.5 551.4,403.5 551.4,403.5 551.4,403.5 551.4,403.5 550.2,404.8 550.2,404.8 549,406.3 547.7,407.8 546.3,409.3 546.3,409.3 544.8,411 543.3,412.5 541.8,413.7 540.4,414.4 539,414.8 537.5,415.1 537.5,415.1 536,415.5 536,415.5 534.4,416 534.4,416 532.7,416.5 531,416.9 529.3,417 529.3,417 528.3,415.8 527.3,414.5 526.3,413.2 526.3,413.2 525.3,411.9 525.3,411.9 525.3,411.9 525.3,411.9 524.2,410.8 524.2,410.8 524.2,410.8 524.2,410.8 524.2,410.8 524.2,410.8 524.2,410.8 524.2,410.8 524.2,410.8 517.9,406.1 517,404.9 516,403.3 515,401.7 513.9,399.4 512.8,396.9 511.8,394.3 511.8,394.3 510.8,391.7 509.8,389.1 508.9,386.5 508.9,386.5 507.9,384 507.9,384 506.7,381.7 506.7,381.7 505.5,379.8 505.5,379.8 504.3,378 504.3,378 503,376.4 503,376.4 501.7,375 501.7,375 500.9,374.2 500.9,374.2 500.1,373.5 500.1,373.5 476.1,355.5 476.1,355.5 475.3,354.9 475.3,354.9 475.3,354.9 475.3,354.9 475.3,354.9 475.3,354.9 475.3,354.9 475.3,354.9 475.3,354.9 474.3,354.5 474.3,354.5 474.3,354.5 474.3,354.5 474.3,354.5 474.3,354.5 474.3,354.5 474.3,354.5 474.3,354.5 474.3,354.5 474.3,354.5 474.3,354.5 474.3,354.5 472.5,354.1 472.5,354.1 472.5,354.1 472.5,354.1 472.5,354.1 472.5,354.1 472.5,354.1 472.5,354.1 472.5,354.1 470.3,354.1 470.3,354.1 468,354.2 468,354.2 466,354.5 466,354.5 464.6,354.8 464.6,354.8 464.6,354.8 464.6,354.8 463.3,355.2 463.3,355.2 462.1,355.7 462.1,355.7 461,356.2 461,356.2 460.7,356.3 437.7,339.1 437.7,339.1 436,338 436,338 434.3,337 434.3,337 434.3,337 434.3,337 432.7,336.3 432.7,336.3 432.7,336.3 432.7,336.3 431.2,335.8 431.2,335.8 429.5,335.4 429.5,335.4 427.7,335 427.7,335 425,334.6 425,334.6 421.9,334.5 418.8,334.2 416,333.7 413.8,332.9 411.7,331.8 411.2,331.5 397.3,321.1 397.3,321.1 396,320.3 396,320.3 396,320.3 396,320.3 396,320.3 396,320.3 396,320.3 396,320.3 396,320.3 396,320.3 396,320.3 396,320.3 396,320.3 396,320.3 396,320.3 396,320.3 396,320.3 396,320.3 396,320.3 396,320.3 396,320.3 396,320.3 396,320.3 396,320.3 396,320.3 396,320.3 396,320.3 396,320.3 396,320.3 396,320.3 396,320.3 394.8,320.2 394.8,320.2 394.8,320.2 394.8,320.2 394.8,320.2 394.8,320.2 394.8,320.2 394.8,320.2 394.8,320.2 394.8,320.2 394.8,320.2 394.8,320.2 394.8,320.2 394.8,320.2 394.8,320.2 394.8,320.2 393.5,320.5 393.5,320.5 393.5,320.5 393.5,320.5 393.5,320.5 393.5,320.5 393.5,320.5 392.3,320.8 391.2,318.8 391.2,318.8 390,316.7 388.8,314.4 387.6,311.9 387.6,311.9 386.3,309.6 386.3,309.6 385,307.5 385,307.5 385,307.5 385,307.5 385,307.5 385,307.5 385,307.5 383.8,306.1 383.8,306.1 383.8,306.1 383.8,306.1 382.6,305 382.6,305 381.4,303.9 380,302.5 377.7,299.8 375.1,296.6 372.5,293.2 370,290 367.8,287.1 365.7,284.1 363.6,281.2 361.7,278.3 360.2,275.4 358.8,272.3 358.8,272.3 357.4,269.5 357.4,269.5 357.4,269.5 357.4,269.5 357.4,269.5 357.4,269.5 357.4,269.5 357.4,269.5 357.4,269.5 357.4,269.5 357.4,269.5 357.4,269.5 357.4,269.5 355.8,267.5 355.8,267.5 355.8,267.5 355.8,267.5 355.8,267.5 355.8,267.5 355.8,267.5 355.8,267.5 355.8,267.5 355.8,267.5 355.8,267.5 355.8,267.5 355.8,267.5 331.8,249.5 331.8,249.5 330.5,248.7 330.5,248.7 330.5,248.7 330.5,248.7 330.5,248.7 330.5,248.7 330.5,248.7 330.5,248.7 330.5,248.7 330.5,248.7 330.5,248.7 330.5,248.7 330.5,248.7 329.2,248.3 329.2,248.3 329.2,248.3 329.2,248.3 329.2,248.3 329.2,248.3 329.2,248.3 327.7,248 327.7,248 326,247.8 326,247.8 322.4,247.4 322.4,247.4 318.1,247.2 318.1,247.2 313.5,247.1 309.3,247 309.3,247 305.8,246.9 305.8,246.9 302.2,246.9 298.9,246.7 296,246.2 294.1,245.4 292.4,244.3 292.4,244.3 290.9,243.4 290.9,243.4 290.9,243.4 290.9,243.4 290.9,243.4 290.9,243.4 290.9,243.4 290.9,243.4 290.9,243.4 290.9,243.4 290.9,243.4 290.9,243.4 290.9,243.4 289.3,242.8 289.3,242.8 289.3,242.8 289.3,242.8 289.3,242.8 289.3,242.8 289.3,242.8 289.3,242.8 289.3,242.8 289.3,242.8 289.3,242.8 289.3,242.8 289.3,242.8 289.3,242.8 289.3,242.8 289.3,242.8 288,242.7 288,242.7 288,242.7 288,242.7 288,242.7 288,242.7 288,242.7 288,242.7 288,242.7 286.8,242.8 286.8,242.8 286.8,242.8 286.8,242.8 286.8,242.8 286.8,242.8 286.8,242.8 286.8,242.8 286.8,242.8 285.5,243.1 285.5,243.1 285.5,243.1 285.5,243.1 285.5,243.1 285.5,243.1 285.5,243.1 285.5,243.1 285.5,243.1 284.3,243.7 284.3,243.7 284.3,243.7 284.3,243.7 284.3,243.7 284.3,243.7 284.3,243.7 284.3,243.7 284.3,243.7 284.3,243.7 284.3,243.7 284.3,243.7 284.3,243.7 284.3,243.7 284.3,243.7 284.3,243.7 284.3,243.7 284.3,243.7 284.3,243.7 282.7,245.2 282.7,245.2 282.7,245.2 282.7,245.2 282.7,245.2 282.7,245.2 282.7,245.2 282.7,245.2 282.7,245.2 282.7,245.2 282.7,245.2 282.7,245.2 282.7,245.2 281.1,247.5 279.5,249.7 277.7,251.2 275.8,251.6 273.8,251.5 271.7,251.3 271.7,251.3 269.8,251.2 269.8,251.2 269.8,251.2 269.8,251.2 269.8,251.2 269.8,251.2 269.8,251.2 268.3,251.3 268.3,251.3 267,251.4 267,251.4 265.6,251.5 265.6,251.5 264.3,251.7 263,251.9 263,251.9 261.8,252 261.8,252 260.5,252.3 260.5,252.3 260.5,252.3 260.5,252.3 260.5,252.3 260.5,252.3 260.5,252.3 260.5,252.3 260.5,252.3 259.3,252.8 259.3,252.8 259.3,252.8 259.3,252.8 259.3,252.8 259.3,252.8 259.3,252.8 259.3,252.8 259.3,252.8 257.8,253.7 257.8,253.7 257.8,253.7 257.8,253.7 257.8,253.7 257.8,253.7 257.8,253.7 256.3,254.9 256.3,254.9 254.9,256.3 254.9,256.3 253.5,257.8 253.5,257.8 252,259.8 252,259.8 250.5,261.9 250.5,261.9 249.1,264.4 249.1,264.4 247.7,267 247.7,267 245.6,271.1 245.6,271.1 243.5,275.8 243.5,275.8 241.4,280.6 239.3,285.3 237.2,289.6 235.1,293.8 233,298 233,298 233,298 231,302 231,302 229.3,305.6 229.3,305.6 227.7,309.3 226,312.6 224.3,315.3 223.2,316.7 222.1,317.9 220.9,318.8 219.3,319.5 215.6,319.8 210.9,319.3 205.9,318.5 205.9,318.5 201,317.8 201,317.8 196.5,317.6 195.5,316.4 195.5,316.4 194,314.9 194,314.9 194,314.9 194,314.9 194,314.9 194,314.9ZM68.3,388.8 71.3,387.2 75,385.1 78.3,383.3 80.8,381.8 83.1,380.3 85.6,378.8 88.3,377.5 92.2,376.1 96.6,374.8 101,373.8 105,373.3 107.7,373.3 110.1,373.7 112.5,374.1 115,374.2 117.9,373.9 120.8,373.3 123.7,372.6 126.7,371.7 130.1,370.6 133.6,369.3 137,368 140,366.7 141.9,365.9 143.5,365.2 145.1,364.4 146.7,363.3 148.8,361.3 150.9,358.8 153,356.1 155,353.3 157.1,350.1 159.1,346.7 161.1,343.3 163.3,340 165.7,336.8 168.3,333.6 170.8,330.5 173.3,327.5 175.5,324.6 177.6,321.7 179.7,319 181.7,316.7 183.2,315.2 184.6,313.7 186,312.6 187.5,312 188.8,312 190,312.3 191.3,313 192.5,313.7 194,314.9 195.5,316.4 197,318.2 198.3,320 199.7,322.4 200.9,325.1 202.1,327.8 203.3,330 204,331.3 204.7,332.4 205.5,333.4 206.7,334.2 210.2,335.2 214.9,335.5 220.1,335.6 225,335.8 229.9,336.5 234.9,337.3 239.6,337.8 243.3,337.5 244.9,336.8 246.1,335.9 247.2,334.7 248.3,333.3 250,330.6 251.7,327.3 253.3,323.6 255,320 257,316 259.1,311.8 261.2,307.6 263.3,303.3 265.4,298.6 267.6,293.8 269.6,289.1 271.7,285 273.1,282.4 274.5,280 276,277.8 277.5,275.8 278.9,274.3 280.3,272.9 281.8,271.7 283.3,270.8 284.5,270.3 285.8,270 287,269.9 288.3,269.7 289.6,269.5 291,269.4 292.3,269.3 293.8,269.2 295.7,269.3 297.8,269.6 299.8,269.6 301.7,269.2 303.5,267.7 305.1,265.5 306.7,263.2 308.3,261.7 309.5,261.1 310.8,260.8 312,260.7 313.3,260.8 314.9,261.4 316.4,262.3 318.1,263.4 320,264.2 322.9,264.7 326.2,264.9 329.8,264.9 333.3,265 337.5,265.1 342.1,265.2 346.4,265.4 350,265.8 351.7,266 353.2,266.3 354.5,266.7 355.8,267.5 357.4,269.5 358.8,272.3 360.2,275.4 361.7,278.3 363.6,281.2 365.7,284.1 367.8,287.1 370,290 372.5,293.3 375.1,296.6 377.7,299.8 380,302.5 381.4,303.9 382.6,305 383.8,306.1 385,307.5 386.3,309.6 387.6,311.9 388.8,314.4 390,316.7 391.2,318.8 392.4,321 393.6,323 395,325 396.5,326.8 398.2,328.4 399.9,330 401.7,331.7 403.7,334 405.8,336.5 408,338.7 410,340 411.3,340.2 412.5,339.9 413.8,339.5 415,339.2 416.3,338.9 417.5,338.5 418.8,338.2 420,338.3 421.3,339.1 422.5,340.5 423.7,342 425,343.3 426.6,344.4 428.2,345.5 429.9,346.5 431.7,347.5 433.7,348.6 435.7,349.8 437.8,350.9 440,351.7 442.8,352.2 445.9,352.5 449,352.7 451.7,353 453.5,353.4 455.2,353.8 456.7,354.3 458.3,355 460,356 461.7,357.2 463.4,358.5 465,360 466.8,362 468.5,364.4 470.2,366.8 471.7,369.2 473,371.8 474.2,374.6 475.3,377 476.7,378.3 477.9,378.2 479.2,377.5 480.5,376.6 481.7,375.8 482.6,375.4 483.3,375 484.1,374.6 485,374.2 486.1,373.7 487.3,373.2 488.6,372.8 490,372.5 492,372.2 494.3,372.1 496.5,372.2 498.3,372.5 499.3,372.9 500.1,373.5 500.9,374.2 501.7,375 503,376.4 504.3,378 505.5,379.8 506.7,381.7 507.8,384 508.8,386.5 509.8,389.1 510.8,391.7 511.8,394.3 512.8,396.9 513.9,399.4 515,401.7 516,403.4 517,404.9 518,406.3 519.2,407.5 520.4,408.4 521.7,409.2 523,409.9 524.2,410.8 525.3,411.9 526.3,413.2 527.3,414.5 528.3,415.8 529.5,417.2 530.7,418.7 532,420.2 533.3,421.7 534.9,423.4 536.5,425.1 538.3,426.7 540,428.3 541.6,429.7 543.3,431.1 545,432.3 546.7,433.3 548.3,434 550,434.5 551.6,434.9 553.3,435 555,434.9 556.7,434.5 558.4,434 560,433.5 561.5,433.1 563,432.8 564.4,432.4 565.8,431.7 567.4,430.5 568.8,429 570.3,427.3 571.7,425.8 573,424.3 574.2,422.8 575.4,421.5 576.7,420.8 577.7,420.8 578.8,421.2 579.8,421.8 580.8,422.5 582,423.6 583.2,425.1 584.4,426.5 585.8,427.5 587.5,427.9 589.4,427.9 591.4,427.7 593.3,427.5 595,427.3 596.7,427 598.4,426.6 600,425.8 601.8,424.4 603.5,422.6 605.1,420.5 606.7,418.3 608.4,415.6 610,412.6 611.6,409.6 613.3,406.7 615,404.2 616.7,401.8 618.4,399.5 620,397.5 620.9,396.2 621.7,395 622.6,394 623.5,393.5 624.6,393.7 625.9,394.5 627.1,395.5 628.3,396.7 629.6,398.4 630.8,400.5 632,402.8 633.3,405 634.8,407.8 636.4,410.9 638.1,413.5 640,415 641.6,415 643.3,414.4 645,413.5 646.7,412.5 648.4,411.4 650.1,410.2 651.8,408.8 653.3,407.5 654.6,406.1 655.7,404.6 656.9,403.3 658.3,402.5 660.2,402.5 662.3,403.3 664.5,404.2 666.7,405 668.7,405.5 670.8,405.8 672.8,406.2 675,406.7 677.8,407.4 680.9,408.2 683.9,409 686.7,410 688.9,411 691,412 693,413.1 695,414 696.8,414.7 698.6,415.3 700.2,415.9 701.7,416.5 702.6,417 703.5,417.5 704.3,418.1 705,418.8 705.9,420 706.7,421.5 707.5,423.2 708.3,425 709.5,427.7 710.7,430.7 712,433.8 713.3,436.7 714.5,439.6 715.7,442.6 716.9,445.1 718.3,446.7 719.1,447 720,447.1 720.9,447 721.7,446.7 722.6,446 723.3,444.9 724.1,443.6 725,442.5 726.2,441.2 727.4,439.8 728.7,438.7 730,438.3 731.3,438.9 732.5,440.2 733.7,441.8 735,443.3 736.4,444.7 737.8,446.2 739.2,447.5 740.8,448.3 742.6,448.5 744.5,448.3 746.5,447.9 748.3,447.5 749.6,447.2 750.9,446.9 752.1,446.4 753.3,445.8 754.6,444.6 755.8,443 756.9,441.4 758.3,440 759.8,439 761.5,438.1 763.2,437.4 765,436.7 767,436 769.1,435.3 771.3,434.7 773.3,434.2 775,433.9 776.6,433.7 778.2,433.5 780,433.3 782.7,433 785.7,432.6 788.8,432.2 791.7,431.7 794.3,431.3 797,430.9 799.5,430.3 801.7,429.2 803.6,427.4 805.2,425 806.7,422.5 808.3,420 809.9,417.6 811.6,415.2 813.2,412.8 815,410.8 816.6,409.4 818.3,408.2 820,407.1 821.7,405.8 823.8,404.1 825.9,402.3 828,400.3 830,398.3 831.8,396.1 833.5,393.9 835.1,391.6 836.7,389.2 838.4,386.7 840,384.1 841.7,381.6 843.3,379.2 844.8,377 846.2,374.6 847.7,372.7 849.2,371.7 850.2,371.7 851.2,372 852.3,372.6 853.3,373.3 854.8,374.6 856.3,376.4 857.8,377.8 859.2,378.3 860.8,376.9 862.1,373.9 863.5,370.2 865,366.7 866.9,363.1 869,359.2 871.2,355.4 873.3,351.7 875.4,348.3 877.5,345 879.6,341.7 881.7,338.3 883.8,334.7 886,331.1 888,327.4 890,323.3 892.1,317.9 894.1,312 896.1,305.9 898.3,300 901.1,293.8 904.2,287.4 907.3,281.3 910,276 911.5,272.9 912.9,270 914.2,267.4 915.5,265 916.5,263.1 917.4,261.3 918.4,259.7 919.5,258.5 920.3,258 921.2,257.6 922.1,257.4 923,257.5 924.1,258.1 925.2,259.2 926.4,260.7 927.5,262.5 930.1,267.9 932.8,275.2 935.6,283 938.3,290 940.5,294.8 942.6,299.4 944.7,303.8 946.7,308.3 948.5,313 950.2,317.9 951.8,322.5 953.3,326.7 954.2,329.2 954.9,331.4 955.7,333.5 956.7,335.8 958.2,338.6 959.9,341.4 961.6,344.3 963.3,347.5 965,351.5 966.6,355.9 968.2,360.4 970,365 972.4,370.6 975.1,376.5 977.7,382.3 980,387.5 981.4,390.9 982.6,394.1 983.8,397.1 985,400 986.2,402.6 987.4,405 988.7,407.5 990,410 991.6,412.9 993.3,415.8 995,418.8 996.7,421.7 998.3,424.6 1000,427.6 1001.6,430.5 1003.3,433.3 1004.9,436 1006.5,438.7 1008.2,441.2 1010,443.3 1011.6,444.7 1013.3,445.9 1015,446.9 1016.7,447.5 1018,447.8 1019.2,447.9 1020.5,447.8 1021.7,447.5 1023.4,446.6 1025,445.1 1026.7,443.4 1028.3,441.7 1030,439.7 1031.7,437.5 1033.4,435.3 1035,433 1036.7,430.6 1038.4,428.2 1040.1,425.7 1041.7,423.5 1043,421.8 1044.3,420.2 1045.6,418.7 1047,417 1048.9,414.6 1050.9,412 1053,409.4 1055,407 1056.8,405.2 1058.5,403.5 1060.3,401.8 1062,400 1063.8,397.7 1065.5,395.1 1067.2,392.6 1069,390 1071.2,387 1073.5,383.9 1075.9,381.1 1078.3,379.2 1080,378.6 1081.6,378.3 1083.3,378.3 1085,378.3 1086.7,378.4 1088.4,378.6 1090,378.9 1091.7,379.2 1093.3,379.5 1095,380 1096.5,380.2 1098,380 1099.5,378.9 1100.8,377.2 1102.1,375.2 1103.3,373.3 1104.6,371.3 1105.8,369.2 1107.1,367.1 1108.3,365 1109.6,363 1110.8,361 1112.1,358.9 1113.3,356.7 1114.6,354 1115.9,351 1117.1,348 1118.3,345 1119.5,341.9 1120.7,338.8 1121.9,335.6 1123.3,332 1125.9,326 1128.9,319.3 1132.1,312.2 1135.3,304.9 1138.8,296.5 1142.4,287.8 1146,278.9 1149.3,269.9 1152.3,260.6 1155.1,251 1157.9,241.6 1161,232.6 1164.7,223.8 1169,214.5 1172.5,207 1174,204 1174,514.5 67,514.5 67,389.5 68.3,388.8Z" fill="#a7a7ab" fill-rule="nonzero"/>
<path d="M45,372.5 L67,389.5 L67,514.5 L45,499.5 Z" fill="#aaaaae"/>
<path d="M45.5,372.5 L67,389.5" stroke="#151515" stroke-width="2.6"/>
<path d="M66.5,389.5 V514.5" stroke="#1a1a1a" stroke-width="2"/>
<path d="M45,372 V499.5 L67,514.5" stroke="#1a1a1a" stroke-width="4.6" fill="none" stroke-linejoin="round"/>
<path d="M45,372.5 44.3,370.8 47.3,369.2 51,367.1 54.3,365.3 56.8,363.8 59.1,362.3 61.6,360.8 64.3,359.5 68.2,358.1 72.6,356.8 77,355.8 81,355.3 83.7,355.3 86.1,355.7 88.5,356.1 91,356.2 93.9,355.9 96.8,355.3 99.7,354.6 102.7,353.7 106.1,352.6 109.6,351.3 113,350 116,348.7 117.9,347.9 119.5,347.2 121.1,346.4 122.7,345.3 124.8,343.3 126.9,340.8 129,338.1 131,335.3 133.1,332.1 135.1,328.7 137.1,325.3 139.3,322 141.7,318.8 144.3,315.6 146.8,312.5 149.3,309.5 151.5,306.6 153.6,303.7 155.7,301 157.7,298.7 159.2,297.2 160.6,295.7 162,294.6 163.5,294 164.8,294 166,294.3 167.3,295 168.5,295.7 170,296.9 171.5,298.4 173,300.2 174.3,302 175.1,303.4M195.2,317.6 196.1,317.6 201,317.8 205.9,318.5 210.9,319.3 215.6,319.8 219.3,319.5 220.9,318.8 222.1,317.9 223.2,316.7 224.3,315.3 226,312.6 227.7,309.3 229.3,305.6 231,302 233,298 235.1,293.8 237.2,289.6 239.3,285.3 241.4,280.6 243.6,275.8 245.6,271.1 247.7,267 249.1,264.4 250.5,262 252,259.8 253.5,257.8 254.9,256.3 256.3,254.9 257.8,253.7 259.3,252.8 260.5,252.3 261.8,252 263,251.9 264.3,251.7 265.6,251.5 267,251.4 268.3,251.3 269.8,251.2 271.7,251.3 273.8,251.6 275.8,251.6 277.7,251.2 279.5,249.7 281.1,247.5 282.7,245.2 284.3,243.7 285.5,243.1 286.8,242.8 288,242.7 289.3,242.8 290.9,243.4 292.4,244.3 294.1,245.4 296,246.2 298.9,246.7 302.2,246.9 305.8,246.9 309.3,247 313.5,247.1 318.1,247.2 322.4,247.4 326,247.8 327.7,248 329.2,248.3 330.5,248.7 331.8,249.5 333.4,251.5 334.8,254.3 335,254.6M391.3,321.1 392.3,320.9 393.5,320.5 394.8,320.2 396,320.3 397.3,321.1 398.5,322.5 399.7,324 401,325.3 402.6,326.4 404.2,327.5 405.9,328.5 407.7,329.5 409.7,330.6 411.7,331.8 413.8,332.9 416,333.7 418.8,334.2 421.9,334.5 425,334.7 427.7,335 429.5,335.4 431.2,335.8 432.7,336.3 434.3,337 436,338 437.7,339.2 439.4,340.5 441,342 442.8,344 444.5,346.4 445.4,347.6M459.6,356.9 460.1,356.6 461,356.2 462.1,355.7 463.3,355.2 464.6,354.8 466,354.5 468,354.2 470.3,354.1 472.5,354.2 474.3,354.5 475.3,354.9 476.1,355.5 476.9,356.2 477.7,357 479,358.4 480.3,360 481.5,361.8 482.1,362.7M527.9,416.9 529.3,417 531,416.9 532.7,416.5 534.4,416 536,415.5 537.5,415.1 539,414.8 540.4,414.4 541.8,413.7 543.4,412.5 544.8,411 546.3,409.3 547.7,407.8 549,406.3 550.2,404.8 551.4,403.5 552.7,402.8 553.7,402.8 554.8,403.2 555.8,403.8 556.8,404.5 558,405.6 559.2,407.1 560.4,408.5 561.8,409.5 563.5,409.9 565.4,409.9 567.4,409.7 569.3,409.5 571,409.3 572.7,409 574.4,408.6 576,407.8 577.8,406.4 579.5,404.6 581.1,402.5 582.7,400.3 584.4,397.6 586,394.6 587.6,391.6 589.3,388.7 591,386.2 592.7,383.8 594.4,381.5 596,379.5 596.9,378.2 597.7,377 598.6,376 599.5,375.5 600.6,375.7 601.9,376.5 603.1,377.5 604.3,378.7 605.6,380.4 606.8,382.5 607.2,383.2M622.5,394.6 622.7,394.5 624.4,393.4 626.1,392.2 627.8,390.8 629.3,389.5 630.6,388.1 631.7,386.6 632.9,385.3 634.3,384.5 636.2,384.5 638.3,385.3 640.5,386.2 642.7,387 644.7,387.5 646.8,387.8 648.8,388.2 651,388.7 653.8,389.4 656.9,390.2 659.9,391 662.7,392 664.9,393 667,394 669,395.1 671,396 672.8,396.7 674.6,397.3 676.2,397.9 677.7,398.5 678.6,399 679.5,399.5 680.3,400.1 681,400.8 681.9,402 682.7,403.5 683.5,405.2 683.5,405.2M705.1,420.6 706,420.3 707.3,420.9 708.5,422.2 709.7,423.8 711,425.3 712.4,426.7 713.8,428.2 715.2,429.5 716.8,430.3 718.6,430.5 720.5,430.3 722.5,429.9 724.3,429.5 725.6,429.2 726.9,428.9 728.1,428.4 729.3,427.8 730.6,426.6 731.8,425 732.9,423.4 734.3,422 735.8,421 737.5,420.1 739.2,419.4 741,418.7 743,418 745.1,417.3 747.3,416.7 749.3,416.2 751,415.9 752.6,415.7 754.2,415.5 756,415.3 758.7,415 761.7,414.6 764.8,414.2 767.7,413.7 770.3,413.3 773,412.9 775.5,412.3 777.7,411.2 779.6,409.4 781.2,407 782.7,404.5 784.3,402 785.9,399.6 787.6,397.2 789.2,394.8 791,392.8 792.6,391.4 794.3,390.2 796,389.1 797.7,387.8 799.8,386.1 801.9,384.3 804,382.3 806,380.3 807.8,378.1 809.5,375.9 811.1,373.6 812.7,371.2 814.4,368.7 816,366.1 817.7,363.6 819.3,361.2 820.8,359 822.2,356.6 823.7,354.7 825.2,353.7 826.2,353.7 827.2,354 828.3,354.6 829.3,355.3 830.8,356.6 832.3,358.4 833.8,359.8 835.2,360.3 836.8,358.9 838.1,355.9 839.5,352.2 841,348.7 842.9,345.1 845,341.2 847.2,337.4 849.3,333.7 851.4,330.3 853.5,327 855.6,323.7 857.7,320.3 859.8,316.7 862,313.1 864,309.4 866,305.3 868.1,299.9 870.1,294 872.1,287.9 874.3,282 877.1,275.8 880.2,269.4 883.3,263.3 886,258 887.5,254.9 888.9,252 890.2,249.4 891.5,247 892.5,245.1 893.4,243.3 894.4,241.7 895.5,240.5 896.3,240 897.2,239.6 898.1,239.4 899,239.5 900.1,240.1 901.2,241.2 902.4,242.7 903.5,244.5 904.2,245.9M999.4,428.5 1001,427.1 1002.7,425.4 1004.3,423.7 1006,421.7 1007.7,419.5 1009.4,417.3 1011,415 1012.7,412.6 1014.4,410.2 1016.1,407.7 1017.7,405.5 1019,403.8 1020.3,402.2 1021.6,400.7 1023,399 1024.9,396.6 1026.9,394 1029,391.4 1031,389 1032.8,387.2 1034.5,385.5 1036.3,383.8 1038,382 1039.8,379.7 1041.5,377.1 1043.2,374.6 1045,372 1047.2,369 1049.5,365.9 1051.9,363.1 1054.3,361.2 1056,360.6 1057.6,360.3 1059.3,360.3 1061,360.3 1062.7,360.4 1064.4,360.6 1066,360.9 1067.7,361.2 1069.3,361.5 1071,362 1072.5,362.2 1074,362 1075.5,360.9 1076.8,359.2 1078.1,357.2 1079.3,355.3 1080.6,353.3 1081.8,351.2 1083.1,349.1 1084.3,347 1085.6,345 1086.8,343 1088.1,340.9 1089.3,338.7 1090.6,336 1091.9,333 1093.1,330 1094.3,327 1095.5,323.9 1096.7,320.8 1097.9,317.6 1099.3,314 1101.9,308 1104.9,301.3 1108.1,294.2 1111.3,286.9 1114.8,278.5 1118.4,269.8 1122,260.9 1125.3,251.9 1128.3,242.6 1131.1,233 1133.9,223.6 1137,214.6 1140.7,205.8 1145,196.5 1148.5,189 1150,186" stroke="#1c1c1e" stroke-width="5" fill="none" stroke-linecap="round" stroke-linejoin="round"/>
<path d="M1149,188 Q1153,182 1157,190" stroke="#1c1c1e" stroke-width="5" fill="none" stroke-linecap="round"/>
<path d="M67,389.5 68.3,388.8 71.3,387.2 75,385.1 78.3,383.3 80.8,381.8 83.1,380.3 85.6,378.8 88.3,377.5 92.2,376.1 96.6,374.8 101,373.8 105,373.3 107.7,373.3 110.1,373.7 112.5,374.1 115,374.2 117.9,373.9 120.8,373.3 123.7,372.6 126.7,371.7 130.1,370.6 133.6,369.3 137,368 140,366.7 141.9,365.9 143.5,365.2 145.1,364.4 146.7,363.3 148.8,361.3 150.9,358.8 153,356.1 155,353.3 157.1,350.1 159.1,346.7 161.1,343.3 163.3,340 165.7,336.8 168.3,333.6 170.8,330.5 173.3,327.5 175.5,324.6 177.6,321.7 179.7,319 181.7,316.7 183.2,315.2 184.6,313.7 186,312.6 187.5,312 188.8,312 190,312.3 191.3,313 192.5,313.7 194,314.9 195.5,316.4 197,318.2 198.3,320 199.7,322.4 200.9,325.1 202.1,327.8 203.3,330 204,331.3 204.7,332.4 205.5,333.4 206.7,334.2 210.2,335.2 214.9,335.5 220.1,335.6 225,335.8 229.9,336.5 234.9,337.3 239.6,337.8 243.3,337.5 244.9,336.8 246.1,335.9 247.2,334.7 248.3,333.3 250,330.6 251.7,327.3 253.3,323.6 255,320 257,316 259.1,311.8 261.2,307.6 263.3,303.3 265.4,298.6 267.6,293.8 269.6,289.1 271.7,285 273.1,282.4 274.5,280 276,277.8 277.5,275.8 278.9,274.3 280.3,272.9 281.8,271.7 283.3,270.8 284.5,270.3 285.8,270 287,269.9 288.3,269.7 289.6,269.5 291,269.4 292.3,269.3 293.8,269.2 295.7,269.3 297.8,269.6 299.8,269.6 301.7,269.2 303.5,267.7 305.1,265.5 306.7,263.2 308.3,261.7 309.5,261.1 310.8,260.8 312,260.7 313.3,260.8 314.9,261.4 316.4,262.3 318.1,263.4 320,264.2 322.9,264.7 326.2,264.9 329.8,264.9 333.3,265 337.5,265.1 342.1,265.2 346.4,265.4 350,265.8 351.7,266 353.2,266.3 354.5,266.7 355.8,267.5 357.4,269.5 358.8,272.3 360.2,275.4 361.7,278.3 363.6,281.2 365.7,284.1 367.8,287.1 370,290 372.5,293.3 375.1,296.6 377.7,299.8 380,302.5 381.4,303.9 382.6,305 383.8,306.1 385,307.5 386.3,309.6 387.6,311.9 388.8,314.4 390,316.7 391.2,318.8 392.4,321 393.6,323 395,325 396.5,326.8 398.2,328.4 399.9,330 401.7,331.7 403.7,334 405.8,336.5 408,338.7 410,340 411.3,340.2 412.5,339.9 413.8,339.5 415,339.2 416.3,338.9 417.5,338.5 418.8,338.2 420,338.3 421.3,339.1 422.5,340.5 423.7,342 425,343.3 426.6,344.4 428.2,345.5 429.9,346.5 431.7,347.5 433.7,348.6 435.7,349.8 437.8,350.9 440,351.7 442.8,352.2 445.9,352.5 449,352.7 451.7,353 453.5,353.4 455.2,353.8 456.7,354.3 458.3,355 460,356 461.7,357.2 463.4,358.5 465,360 466.8,362 468.5,364.4 470.2,366.8 471.7,369.2 473,371.8 474.2,374.6 475.3,377 476.7,378.3 477.9,378.2 479.2,377.5 480.5,376.6 481.7,375.8 482.6,375.4 483.3,375 484.1,374.6 485,374.2 486.1,373.7 487.3,373.2 488.6,372.8 490,372.5 492,372.2 494.3,372.1 496.5,372.2 498.3,372.5 499.3,372.9 500.1,373.5 500.9,374.2 501.7,375 503,376.4 504.3,378 505.5,379.8 506.7,381.7 507.8,384 508.8,386.5 509.8,389.1 510.8,391.7 511.8,394.3 512.8,396.9 513.9,399.4 515,401.7 516,403.4 517,404.9 518,406.3 519.2,407.5 520.4,408.4 521.7,409.2 523,409.9 524.2,410.8 525.3,411.9 526.3,413.2 527.3,414.5 528.3,415.8 529.5,417.2 530.7,418.7 532,420.2 533.3,421.7 534.9,423.4 536.5,425.1 538.3,426.7 540,428.3 541.6,429.7 543.3,431.1 545,432.3 546.7,433.3 548.3,434 550,434.5 551.6,434.9 553.3,435 555,434.9 556.7,434.5 558.4,434 560,433.5 561.5,433.1 563,432.8 564.4,432.4 565.8,431.7 567.4,430.5 568.8,429 570.3,427.3 571.7,425.8 573,424.3 574.2,422.8 575.4,421.5 576.7,420.8 577.7,420.8 578.8,421.2 579.8,421.8 580.8,422.5 582,423.6 583.2,425.1 584.4,426.5 585.8,427.5 587.5,427.9 589.4,427.9 591.4,427.7 593.3,427.5 595,427.3 596.7,427 598.4,426.6 600,425.8 601.8,424.4 603.5,422.6 605.1,420.5 606.7,418.3 608.4,415.6 610,412.6 611.6,409.6 613.3,406.7 615,404.2 616.7,401.8 618.4,399.5 620,397.5 620.9,396.2 621.7,395 622.6,394 623.5,393.5 624.6,393.7 625.9,394.5 627.1,395.5 628.3,396.7 629.6,398.4 630.8,400.5 632,402.8 633.3,405 634.8,407.8 636.4,410.9 638.1,413.5 640,415 641.6,415 643.3,414.4 645,413.5 646.7,412.5 648.4,411.4 650.1,410.2 651.8,408.8 653.3,407.5 654.6,406.1 655.7,404.6 656.9,403.3 658.3,402.5 660.2,402.5 662.3,403.3 664.5,404.2 666.7,405 668.7,405.5 670.8,405.8 672.8,406.2 675,406.7 677.8,407.4 680.9,408.2 683.9,409 686.7,410 688.9,411 691,412 693,413.1 695,414 696.8,414.7 698.6,415.3 700.2,415.9 701.7,416.5 702.6,417 703.5,417.5 704.3,418.1 705,418.8 705.9,420 706.7,421.5 707.5,423.2 708.3,425 709.5,427.7 710.7,430.7 712,433.8 713.3,436.7 714.5,439.6 715.7,442.6 716.9,445.1 718.3,446.7 719.1,447 720,447.1 720.9,447 721.7,446.7 722.6,446 723.3,444.9 724.1,443.6 725,442.5 726.2,441.2 727.4,439.8 728.7,438.7 730,438.3 731.3,438.9 732.5,440.2 733.7,441.8 735,443.3 736.4,444.7 737.8,446.2 739.2,447.5 740.8,448.3 742.6,448.5 744.5,448.3 746.5,447.9 748.3,447.5 749.6,447.2 750.9,446.9 752.1,446.4 753.3,445.8 754.6,444.6 755.8,443 756.9,441.4 758.3,440 759.8,439 761.5,438.1 763.2,437.4 765,436.7 767,436 769.1,435.3 771.3,434.7 773.3,434.2 775,433.9 776.6,433.7 778.2,433.5 780,433.3 782.7,433 785.7,432.6 788.8,432.2 791.7,431.7 794.3,431.3 797,430.9 799.5,430.3 801.7,429.2 803.6,427.4 805.2,425 806.7,422.5 808.3,420 809.9,417.6 811.6,415.2 813.2,412.8 815,410.8 816.6,409.4 818.3,408.2 820,407.1 821.7,405.8 823.8,404.1 825.9,402.3 828,400.3 830,398.3 831.8,396.1 833.5,393.9 835.1,391.6 836.7,389.2 838.4,386.7 840,384.1 841.7,381.6 843.3,379.2 844.8,377 846.2,374.6 847.7,372.7 849.2,371.7 850.2,371.7 851.2,372 852.3,372.6 853.3,373.3 854.8,374.6 856.3,376.4 857.8,377.8 859.2,378.3 860.8,376.9 862.1,373.9 863.5,370.2 865,366.7 866.9,363.1 869,359.2 871.2,355.4 873.3,351.7 875.4,348.3 877.5,345 879.6,341.7 881.7,338.3 883.8,334.7 886,331.1 888,327.4 890,323.3 892.1,317.9 894.1,312 896.1,305.9 898.3,300 901.1,293.8 904.2,287.4 907.3,281.3 910,276 911.5,272.9 912.9,270 914.2,267.4 915.5,265 916.5,263.1 917.4,261.3 918.4,259.7 919.5,258.5 920.3,258 921.2,257.6 922.1,257.4 923,257.5 924.1,258.1 925.2,259.2 926.4,260.7 927.5,262.5 930.1,267.9 932.8,275.2 935.6,283 938.3,290 940.5,294.8 942.6,299.4 944.7,303.8 946.7,308.3 948.5,313 950.2,317.9 951.8,322.5 953.3,326.7 954.2,329.2 954.9,331.4 955.7,333.5 956.7,335.8 958.2,338.6 959.9,341.4 961.6,344.3 963.3,347.5 965,351.5 966.6,355.9 968.2,360.4 970,365 972.4,370.6 975.1,376.5 977.7,382.3 980,387.5 981.4,390.9 982.6,394.1 983.8,397.1 985,400 986.2,402.6 987.4,405 988.7,407.5 990,410 991.6,412.9 993.3,415.8 995,418.8 996.7,421.7 998.3,424.6 1000,427.6 1001.6,430.5 1003.3,433.3 1004.9,436 1006.5,438.7 1008.2,441.2 1010,443.3 1011.6,444.7 1013.3,445.9 1015,446.9 1016.7,447.5 1018,447.8 1019.2,447.9 1020.5,447.8 1021.7,447.5 1023.4,446.6 1025,445.1 1026.7,443.4 1028.3,441.7 1030,439.7 1031.7,437.5 1033.4,435.3 1035,433 1036.7,430.6 1038.4,428.2 1040.1,425.7 1041.7,423.5 1043,421.8 1044.3,420.2 1045.6,418.7 1047,417 1048.9,414.6 1050.9,412 1053,409.4 1055,407 1056.8,405.2 1058.5,403.5 1060.3,401.8 1062,400 1063.8,397.7 1065.5,395.1 1067.2,392.6 1069,390 1071.2,387 1073.5,383.9 1075.9,381.1 1078.3,379.2 1080,378.6 1081.6,378.3 1083.3,378.3 1085,378.3 1086.7,378.4 1088.4,378.6 1090,378.9 1091.7,379.2 1093.3,379.5 1095,380 1096.5,380.2 1098,380 1099.5,378.9 1100.8,377.2 1102.1,375.2 1103.3,373.3 1104.6,371.3 1105.8,369.2 1107.1,367.1 1108.3,365 1109.6,363 1110.8,361 1112.1,358.9 1113.3,356.7 1114.6,354 1115.9,351 1117.1,348 1118.3,345 1119.5,341.9 1120.7,338.8 1121.9,335.6 1123.3,332 1125.9,326 1128.9,319.3 1132.1,312.2 1135.3,304.9 1138.8,296.5 1142.4,287.8 1146,278.9 1149.3,269.9 1152.3,260.6 1155.1,251 1157.9,241.6 1161,232.6 1164.7,223.8 1169,214.5 1172.5,207 1174,204" stroke="#e5007d" stroke-width="3.5" fill="none" stroke-linejoin="round" stroke-linecap="round"/>
<path d="M67,514.8 H1176" stroke="#4a4a4a" stroke-width="1.6"/>
<text transform="translate(126.6 317.5) rotate(-90)" font-size="22" fill="#3a3a3a" text-anchor="start" textLength="192" lengthAdjust="spacingAndGlyphs">635 - Svinc. di Forlì del Sannio</text>
<text transform="translate(189.6 285.5) rotate(-90)" font-size="22" fill="#3a3a3a" text-anchor="start" textLength="116" lengthAdjust="spacingAndGlyphs">820 - Ponte Zittola</text>
<text transform="translate(213.6 291.5) rotate(-90)" font-size="22" fill="#3a3a3a" text-anchor="start" textLength="140" lengthAdjust="spacingAndGlyphs">979 - Castel di Sangro</text>
<text transform="translate(277.6 221.5) rotate(-90)" font-size="22" font-weight="bold" fill="#111" text-anchor="start" textLength="134.5" lengthAdjust="spacingAndGlyphs">1231 - ROCCARASO</text>
<text transform="translate(333.1 221.5) rotate(-90)" font-size="22" fill="#3a3a3a" text-anchor="start" textLength="152" lengthAdjust="spacingAndGlyphs">1235 - Bv. di Gamberale</text>
<text transform="translate(390.6 280) rotate(-90)" font-size="22" fill="#3a3a3a" text-anchor="start" textLength="78" lengthAdjust="spacingAndGlyphs">787 - Palena</text>
<text transform="translate(444.6 312.5) rotate(-90)" font-size="22" fill="#3a3a3a" text-anchor="start" textLength="141" lengthAdjust="spacingAndGlyphs">668 - Lama dei Peligni</text>
<text transform="translate(492.6 338) rotate(-90)" font-size="22" fill="#3a3a3a" text-anchor="start" textLength="146.8" lengthAdjust="spacingAndGlyphs">434 - Fara San Martino</text>
<text transform="translate(543.9 387.9) rotate(-90)" font-size="22" fill="#3a3a3a" text-anchor="start" textLength="96.4" lengthAdjust="spacingAndGlyphs">195 - Ins. ss.81</text>
<text transform="translate(608.3 349.5) rotate(-90)" font-size="22" fill="#3a3a3a" text-anchor="start" textLength="117.6" lengthAdjust="spacingAndGlyphs">437 - Guardiagrele</text>
<text transform="translate(643.3 350.5) rotate(-90)" font-size="22" font-weight="bold" fill="#111" text-anchor="start" textLength="93" lengthAdjust="spacingAndGlyphs">423 - FILETTO</text>
<text transform="translate(691.6 376.5) rotate(-90)" font-size="22" fill="#3a3a3a" text-anchor="start" textLength="55" lengthAdjust="spacingAndGlyphs">260 - Ari</text>
<text transform="translate(725.4 402.5) rotate(-90)" font-size="22" fill="#3a3a3a" text-anchor="start" textLength="107" lengthAdjust="spacingAndGlyphs">102 - Ins. ss.263</text>
<text transform="translate(779.1 385) rotate(-90)" font-size="22" fill="#3a3a3a" text-anchor="start" textLength="151.5" lengthAdjust="spacingAndGlyphs">219 - Fara Filiorum Petri</text>
<text transform="translate(815 345.2) rotate(-90)" font-size="22" fill="#3a3a3a" text-anchor="start" textLength="150.5" lengthAdjust="spacingAndGlyphs">465 - Roccamontepiano</text>
<text transform="translate(842.3 330.9) rotate(-90)" font-size="22" fill="#3a3a3a" text-anchor="start" textLength="84.4" lengthAdjust="spacingAndGlyphs">524 - Pretoro</text>
<text transform="translate(904.3 208.3) rotate(-90)" font-size="22" font-weight="bold" fill="#111" text-anchor="start" textLength="171.1" lengthAdjust="spacingAndGlyphs">1310 - PASSO LANCIANO</text>
<text transform="translate(972.9 323.7) rotate(-90)" font-size="22" fill="#3a3a3a" text-anchor="start" textLength="143.2" lengthAdjust="spacingAndGlyphs">349 - Lettomanoppello</text>
<text transform="translate(1009.8 398.3) rotate(-90)" font-size="22" fill="#3a3a3a" text-anchor="start" textLength="71.4" lengthAdjust="spacingAndGlyphs">118 - Scafa</text>
<text transform="translate(1044.6 350.5) rotate(-90)" font-size="22" fill="#3a3a3a" text-anchor="start" textLength="248" lengthAdjust="spacingAndGlyphs">423 - San Valentino in Abruzzo Citeriore</text>
<text transform="translate(1081.6 334.1) rotate(-90)" font-size="22" font-weight="bold" fill="#111" text-anchor="start" textLength="141.8" lengthAdjust="spacingAndGlyphs">524 - ROCCAMORICE</text>
<path d="M120.5,324 V347M184.5,292 V307.3M206.5,297 V318.5M272.5,230 V251.3M327.5,227.5 V248M384.5,285 V307.5M438.5,318.7 V339.9M486.5,342 V363.1M537.5,393.4 V415.1M602.5,356 V376.5M635.5,358.4 V384.5M683.5,381.4 V402.7M718.5,407.4 V428.9M773.5,390 V412.8M810.5,351 V374.8M835.5,336 V359.9M898.5,216 V239.5M964.5,329.6 V350.8M1002.5,405.5 V425.2M1039.5,357.8 V379.7M1075.5,341.3 V361.1" stroke="#3a3a3a" stroke-width="1" fill="none"/>
<text x="0" y="0" transform="translate(128.6 530) scale(0.75 1)" font-size="14" fill="#333" text-anchor="middle">10</text>
<text x="0" y="0" transform="translate(188 530) scale(0.75 1)" font-size="14" fill="#333" text-anchor="middle">20</text>
<text x="0" y="0" transform="translate(247.5 530) scale(0.75 1)" font-size="14" fill="#333" text-anchor="middle">30</text>
<text x="0" y="0" transform="translate(306.9 530) scale(0.75 1)" font-size="14" fill="#333" text-anchor="middle">40</text>
<text x="0" y="0" transform="translate(366.4 530) scale(0.75 1)" font-size="14" fill="#333" text-anchor="middle">50</text>
<text x="0" y="0" transform="translate(425.9 530) scale(0.75 1)" font-size="14" fill="#333" text-anchor="middle">60</text>
<text x="0" y="0" transform="translate(485.3 530) scale(0.75 1)" font-size="14" fill="#333" text-anchor="middle">70</text>
<text x="0" y="0" transform="translate(544.8 530) scale(0.75 1)" font-size="14" fill="#333" text-anchor="middle">80</text>
<text x="0" y="0" transform="translate(604.2 530) scale(0.75 1)" font-size="14" fill="#333" text-anchor="middle">90</text>
<text x="0" y="0" transform="translate(663.7 530) scale(0.75 1)" font-size="14" fill="#333" text-anchor="middle">100</text>
<text x="0" y="0" transform="translate(723.2 530) scale(0.75 1)" font-size="14" fill="#333" text-anchor="middle">110</text>
<text x="0" y="0" transform="translate(782.6 530) scale(0.75 1)" font-size="14" fill="#333" text-anchor="middle">120</text>
<text x="0" y="0" transform="translate(842.1 530) scale(0.75 1)" font-size="14" fill="#333" text-anchor="middle">130</text>
<text x="0" y="0" transform="translate(901.5 530) scale(0.75 1)" font-size="14" fill="#333" text-anchor="middle">140</text>
<text x="0" y="0" transform="translate(961 530) scale(0.75 1)" font-size="14" fill="#333" text-anchor="middle">150</text>
<text x="0" y="0" transform="translate(1020.5 530) scale(0.75 1)" font-size="14" fill="#333" text-anchor="middle">160</text>
<text x="0" y="0" transform="translate(1079.9 530) scale(0.75 1)" font-size="14" fill="#333" text-anchor="middle">170</text>
<text x="0" y="0" transform="translate(1139.4 530) scale(0.75 1)" font-size="14" fill="#333" text-anchor="middle">180</text>
<text x="0" y="0" transform="translate(64.8 530) scale(0.75 1)" font-size="14" fill="#333" text-anchor="middle">0</text>
<text transform="translate(74.4 542) rotate(-90)" font-size="20" font-weight="bold" fill="#111" text-anchor="end" textLength="19.5" lengthAdjust="spacingAndGlyphs">0.0</text>
<text transform="translate(149.8 542) rotate(-90)" font-size="20" fill="#2a2a2a" text-anchor="end" textLength="28" lengthAdjust="spacingAndGlyphs">12.7</text>
<text transform="translate(213.4 542) rotate(-90)" font-size="20" fill="#2a2a2a" text-anchor="end" textLength="28" lengthAdjust="spacingAndGlyphs">23.4</text>
<text transform="translate(236.6 542) rotate(-90)" font-size="20" fill="#2a2a2a" text-anchor="end" textLength="28" lengthAdjust="spacingAndGlyphs">27.3</text>
<text transform="translate(300.7 542) rotate(-90)" font-size="20" font-weight="bold" fill="#111" text-anchor="end" textLength="29.5" lengthAdjust="spacingAndGlyphs">38.1</text>
<text transform="translate(356.6 542) rotate(-90)" font-size="20" fill="#2a2a2a" text-anchor="end" textLength="28" lengthAdjust="spacingAndGlyphs">47.5</text>
<text transform="translate(414.8 542) rotate(-90)" font-size="20" fill="#2a2a2a" text-anchor="end" textLength="28" lengthAdjust="spacingAndGlyphs">57.3</text>
<text transform="translate(467.6 542) rotate(-90)" font-size="20" fill="#2a2a2a" text-anchor="end" textLength="28" lengthAdjust="spacingAndGlyphs">66.2</text>
<text transform="translate(516.3 542) rotate(-90)" font-size="20" fill="#2a2a2a" text-anchor="end" textLength="28" lengthAdjust="spacingAndGlyphs">74.4</text>
<text transform="translate(568 542) rotate(-90)" font-size="20" fill="#2a2a2a" text-anchor="end" textLength="28" lengthAdjust="spacingAndGlyphs">83.1</text>
<text transform="translate(631.6 542) rotate(-90)" font-size="20" fill="#2a2a2a" text-anchor="end" textLength="28" lengthAdjust="spacingAndGlyphs">93.8</text>
<text transform="translate(665.4 542) rotate(-90)" font-size="20" font-weight="bold" fill="#111" text-anchor="end" textLength="29.5" lengthAdjust="spacingAndGlyphs">99.5</text>
<text transform="translate(713.5 542) rotate(-90)" font-size="20" fill="#2a2a2a" text-anchor="end" textLength="33.5" lengthAdjust="spacingAndGlyphs">107.6</text>
<text transform="translate(748 542) rotate(-90)" font-size="20" fill="#2a2a2a" text-anchor="end" textLength="33.5" lengthAdjust="spacingAndGlyphs">113.4</text>
<text transform="translate(802.6 542) rotate(-90)" font-size="20" fill="#2a2a2a" text-anchor="end" textLength="33.5" lengthAdjust="spacingAndGlyphs">122.6</text>
<text transform="translate(839.5 542) rotate(-90)" font-size="20" fill="#2a2a2a" text-anchor="end" textLength="33.5" lengthAdjust="spacingAndGlyphs">128.8</text>
<text transform="translate(864.4 542) rotate(-90)" font-size="20" fill="#2a2a2a" text-anchor="end" textLength="33.5" lengthAdjust="spacingAndGlyphs">133.0</text>
<text transform="translate(928 542) rotate(-90)" font-size="20" font-weight="bold" fill="#111" text-anchor="end" textLength="36" lengthAdjust="spacingAndGlyphs">143.7</text>
<text transform="translate(995.1 542) rotate(-90)" font-size="20" fill="#2a2a2a" text-anchor="end" textLength="33.5" lengthAdjust="spacingAndGlyphs">155.0</text>
<text transform="translate(1031.9 542) rotate(-90)" font-size="20" fill="#2a2a2a" text-anchor="end" textLength="33.5" lengthAdjust="spacingAndGlyphs">161.2</text>
<text transform="translate(1068.8 542) rotate(-90)" font-size="20" fill="#2a2a2a" text-anchor="end" textLength="33.5" lengthAdjust="spacingAndGlyphs">167.4</text>
<text transform="translate(1105 542) rotate(-90)" font-size="20" font-weight="bold" fill="#111" text-anchor="end" textLength="36" lengthAdjust="spacingAndGlyphs">173.5</text>
<text transform="translate(1183.7 542) rotate(-90)" font-size="20" font-weight="bold" fill="#111" text-anchor="end" textLength="36" lengthAdjust="spacingAndGlyphs">187.0</text>
<path d="M67,514 V540M293.3,269.2 V472M658,402.7 V472M920.6,257.9 V472M1097.6,380.1 V472" stroke="#111" stroke-width="2" fill="none"/>
<path d="M293.3,500 V538M658,500 V538M920.6,500 V538M1097.6,500 V538" stroke="#6e6e6e" stroke-width="1.2" fill="none"/>
<path d="M1176.3,3 V541" stroke="#111" stroke-width="2.4" fill="none"/>
<path d="M44.7,200 V372" stroke="#111" stroke-width="1.5" fill="none"/>
<path d="M67,598.5 H1175.5 M67,584 V599 M197.8,584 V599 M330,584 V599 M917.3,584 V599 M1158,584 V599 M1175.5,584 V599" stroke="#b4b4b4" stroke-width="2" fill="none"/>
<text transform="translate(135.4 593) scale(0.6 1)" font-size="19.5" fill="#a8a8a8" text-anchor="middle">IS</text>
<text transform="translate(267.5 593) scale(0.6 1)" font-size="19.5" fill="#a8a8a8" text-anchor="middle">AQ</text>
<text transform="translate(634 593) scale(0.6 1)" font-size="19.5" fill="#a8a8a8" text-anchor="middle">CH</text>
<text transform="translate(1018.7 593) scale(0.6 1)" font-size="19.5" fill="#a8a8a8" text-anchor="middle">PE</text>
<text transform="translate(1167 590.5) scale(0.6 1)" font-size="14" fill="#a8a8a8" text-anchor="middle">CH</text>
<circle cx="293.3" cy="269.2" r="5.2" fill="#161616" stroke="#fff" stroke-width="1.4"/>
<circle cx="293.3" cy="487" r="16.3" fill="url(#blg)" stroke="#101c50" stroke-width="1.3"/><ellipse cx="293.3" cy="475.5" rx="4.5" ry="1.8" fill="#a9cdf2" opacity="0.8"/><path d="M280.3,480.4 L306.3,480.4 L293.3,501.7 Z" fill="#fff"/><text x="0" y="0" font-size="18" font-weight="bold" font-style="italic" fill="#111" stroke="#111" stroke-width="0.6" stroke-linejoin="round" text-anchor="middle" transform="translate(293.6 493.8) skewX(-8) scale(0.95 1)">2</text>
<circle cx="658" cy="402.7" r="5.2" fill="#161616" stroke="#fff" stroke-width="1.4"/>
<circle cx="658" cy="487.5" r="16.4" fill="url(#mg)" stroke="#2a0420" stroke-width="1.2"/><text x="0" y="0" transform="translate(656.2 496.8) skewX(-10)" font-size="26" font-weight="bold" font-style="italic" fill="#fff" stroke="#1e0016" stroke-width="1.3" paint-order="stroke" text-anchor="middle">S</text>
<circle cx="920.6" cy="257.9" r="5.2" fill="#161616" stroke="#fff" stroke-width="1.4"/>
<circle cx="920.6" cy="486.5" r="16.3" fill="url(#blg)" stroke="#101c50" stroke-width="1.3"/><ellipse cx="920.6" cy="475" rx="4.5" ry="1.8" fill="#a9cdf2" opacity="0.8"/><path d="M907.6,479.9 L933.6,479.9 L920.6,501.2 Z" fill="#fff"/><path transform="translate(920.6 486.5)" d="M1.2,-5.6 L4.6,-5.6 L1.6,7.2 L-1.9,7.2 Z M1.3,-5.6 L-2.6,-3.2 L-3.2,-1 L0.6,-2.8 Z" fill="#111"/>
<circle cx="1097.6" cy="380.1" r="5.2" fill="#161616" stroke="#fff" stroke-width="1.4"/>
<circle cx="1097.6" cy="486.3" r="16.4" fill="url(#mg)" stroke="#2a0420" stroke-width="1.2"/><text x="0" y="0" transform="translate(1095.8 495.6) skewX(-10)" font-size="26" font-weight="bold" font-style="italic" fill="#fff" stroke="#1e0016" stroke-width="1.3" paint-order="stroke" text-anchor="middle">S</text>
<circle cx="1176.3" cy="201.5" r="5.2" fill="#161616" stroke="#fff" stroke-width="1.4"/>
<circle cx="1176.3" cy="486.3" r="16.3" fill="url(#blg)" stroke="#101c50" stroke-width="1.3"/><ellipse cx="1176.3" cy="474.8" rx="4.5" ry="1.8" fill="#a9cdf2" opacity="0.8"/><path d="M1163.3,479.7 L1189.3,479.7 L1176.3,501 Z" fill="#fff"/><path transform="translate(1176.3 486.3)" d="M1.2,-5.6 L4.6,-5.6 L1.6,7.2 L-1.9,7.2 Z M1.3,-5.6 L-2.6,-3.2 L-3.2,-1 L0.6,-2.8 Z" fill="#111"/>
<circle cx="87.5" cy="512.3" r="7.8" fill="#fff" stroke="#2a2a2a" stroke-width="1"/><path d="M83.1,516.8 V512.3 A4.4,4.4 0 0 1 91.9,512.3 V516.8" fill="none" stroke="#555" stroke-width="1.7"/><path d="M84.9,516.5 V512.6 A2.6,2.6 0 0 1 90.1,512.6 V516.5 Z" fill="#111"/>
<circle cx="97.8" cy="512.3" r="7.8" fill="#fff" stroke="#2a2a2a" stroke-width="1"/><path d="M93.3,516.8 V512.3 A4.4,4.4 0 0 1 102.2,512.3 V516.8" fill="none" stroke="#555" stroke-width="1.7"/><path d="M95.2,516.5 V512.6 A2.6,2.6 0 0 1 100.3,512.6 V516.5 Z" fill="#111"/>
<circle cx="153.8" cy="512.3" r="7.8" fill="#fff" stroke="#2a2a2a" stroke-width="1"/><path d="M149.4,516.8 V512.3 A4.4,4.4 0 0 1 158.2,512.3 V516.8" fill="none" stroke="#555" stroke-width="1.7"/><path d="M151.2,516.5 V512.6 A2.6,2.6 0 0 1 156.4,512.6 V516.5 Z" fill="#111"/>
<circle cx="162.3" cy="512.3" r="7.8" fill="#fff" stroke="#2a2a2a" stroke-width="1"/><path d="M157.9,516.8 V512.3 A4.4,4.4 0 0 1 166.7,512.3 V516.8" fill="none" stroke="#555" stroke-width="1.7"/><path d="M159.7,516.5 V512.6 A2.6,2.6 0 0 1 164.9,512.6 V516.5 Z" fill="#111"/>
<circle cx="207" cy="512.3" r="8.3" fill="#fff" stroke="#2a2a2a" stroke-width="1.1"/><path d="M204.8,505.3 V519.3 M209.2,505.3 V519.3" stroke="#222" stroke-width="1.2"/><path d="M202.8,506.3 H211.2M202.8,509.3 H211.2M202.8,512.3 H211.2M202.8,515.3 H211.2M202.8,518.3 H211.2" stroke="#222" stroke-width="1.2"/>
<g fill="none" stroke="#111" stroke-width="2.3" stroke-linecap="round" stroke-linejoin="round"><path d="M1202,478.5 C1199,481 1200,488 1203.5,488 C1207,488 1206.5,480 1209.5,480 C1212,480 1212.5,486 1210,489"/><path d="M1201,502 L1211,502 L1206,493 Z"/><path d="M1202,506.5 C1199,509 1200,516.5 1203.5,516.5 C1207,516.5 1206.5,508 1209.5,508 C1212,508 1212.5,514.5 1210,517.5"/></g>
<path d="M9.3,199.5 H34 Q40,199.5 40,205.5 V386.7 A18.35,18.35 0 0 1 3.3,386.7 V205.5 Q3.3,199.5 9.3,199.5 Z" fill="url(#boxg)" stroke="#1f9a35" stroke-width="4"/>
<text transform="translate(30.5 362) rotate(-90)" font-size="24" font-weight="bold" fill="#151515" text-anchor="start" textLength="157" lengthAdjust="spacingAndGlyphs">493 - ISERNIA</text>
<circle cx="21.6" cy="387.2" r="16.4" fill="url(#gg)" stroke="#16301a" stroke-width="1.6"/>
<g transform="translate(21.6 387.2)"><g fill="none" stroke="#fff" stroke-width="1.9"><circle cx="-8.2" cy="4.8" r="4.4"/><circle cx="7.2" cy="4.8" r="4.4"/></g><circle cx="-8.2" cy="4.8" r="1" fill="#fff"/><circle cx="7.2" cy="4.8" r="1" fill="#fff"/><path d="M-8.2,4.8 L-0.5,4.8 L-4.5,-1.5 Z M-0.5,4.8 L4.5,-2 L7.2,4.8 M-4.5,-1.5 L4.5,-2" fill="none" stroke="#fff" stroke-width="1.4"/><path d="M-7.8,-3.5 C-8,-8 -3,-10 2,-9.8 L5,-8.8 L4.8,-5.8 C2.5,-5.2 0.5,-4 -1,-2.5 L-3.5,1.2 L-7,0 Z" fill="#fff"/><circle cx="4.3" cy="-9.6" r="2.9" fill="#fff"/><path d="M3,-7 L6,-1.5 M-4,-1.5 L1,2.5 L-0.5,5.5" fill="none" stroke="#fff" stroke-width="2.1" stroke-linecap="round"/></g>
<path d="M1192.5,5.7 H1217.2 Q1223.2,5.7 1223.2,11.7 V254.5 A18.35,18.35 0 0 1 1186.5,254.5 V11.7 Q1186.5,5.7 1192.5,5.7 Z" fill="url(#boxr)" stroke="#e5000f" stroke-width="4.2"/>
<text transform="translate(1213.5 232.5) rotate(-90)" font-size="25.5" font-weight="bold" fill="#151515" text-anchor="start" textLength="216" lengthAdjust="spacingAndGlyphs">1665 - BLOCKHAUS</text>
<circle cx="1204.5" cy="252.6" r="15.6" fill="url(#rg)" stroke="#1a0a0a" stroke-width="1.6"/>
<g transform="translate(1204.5 252.8)"><g fill="none" stroke="#fff" stroke-width="1.9"><circle cx="-7.4" cy="6.6" r="4.5"/><circle cx="8.1" cy="6.6" r="4.5"/></g><circle cx="-7.4" cy="6.6" r="1" fill="#fff"/><circle cx="8.1" cy="6.6" r="1" fill="#fff"/><path d="M-7.4,6.6 L0.5,6.6 L-3,0 Z M0.5,6.6 L5.5,0 L8.1,6.6 M-3,0 L5.5,0" fill="none" stroke="#fff" stroke-width="1.4"/><path d="M-4.5,-9.5 C-6,-6 -5.5,-2.5 -4,0.5 L0,0.5 C0,-3 1,-6 1.5,-9.5 Z" fill="#fff"/><circle cx="-1.5" cy="-12.2" r="2.8" fill="#fff"/><path d="M0,-7 L5,-2.5 L6,0 M-2,0 L1,6" fill="none" stroke="#fff" stroke-width="2.1" stroke-linecap="round"/></g>
</svg></body></html>
